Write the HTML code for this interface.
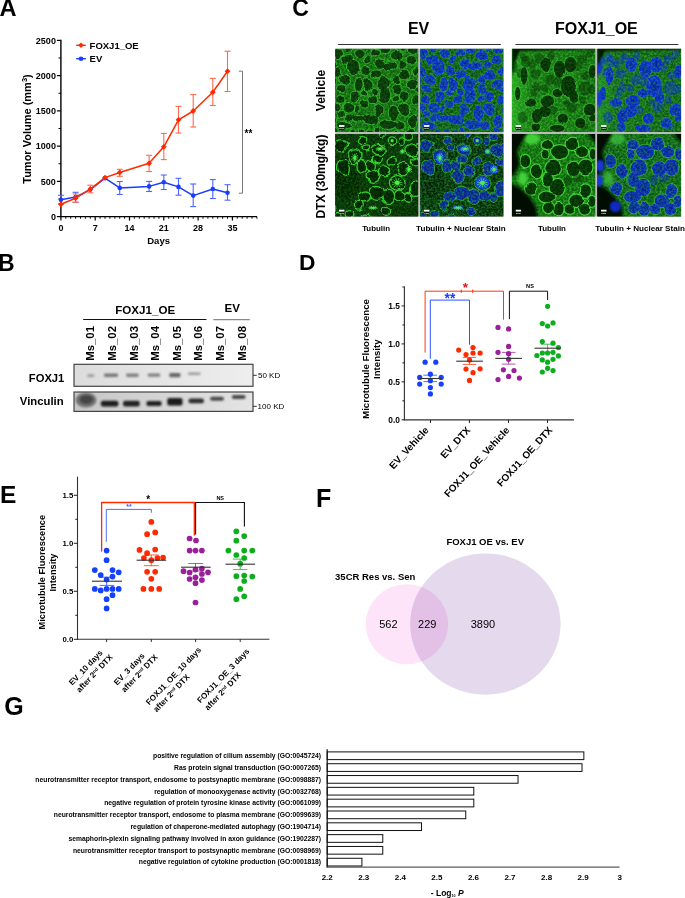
<!DOCTYPE html>
<html lang="en">
<head>
<meta charset="utf-8">
<title>Figure</title>
<style>
html,body{margin:0;padding:0;background:#fff;}
body{width:685px;height:898px;overflow:hidden;}
svg.fig{display:block;font-family:"Liberation Sans",Arial,Helvetica,sans-serif;}
</style>
</head>
<body>
<svg class="fig" width="685" height="898" viewBox="0 0 685 898">
<rect width="685" height="898" fill="#fff"/>
<g id="panelA">
<text x="-0.5" y="16" font-size="23.6" font-weight="bold" text-anchor="start" fill="#000" >A</text>
<line x1="60.9" y1="39.8" x2="60.9" y2="217.2" stroke="#000" stroke-width="1.4" />
<line x1="60.2" y1="216.6" x2="257" y2="216.6" stroke="#000" stroke-width="1.4" />
<line x1="56.9" y1="216.6" x2="60.9" y2="216.6" stroke="#000" stroke-width="1.2" />
<line x1="58.5" y1="198.98" x2="60.9" y2="198.98" stroke="#000" stroke-width="1" />
<line x1="56.9" y1="181.36" x2="60.9" y2="181.36" stroke="#000" stroke-width="1.2" />
<line x1="58.5" y1="163.74" x2="60.9" y2="163.74" stroke="#000" stroke-width="1" />
<line x1="56.9" y1="146.12" x2="60.9" y2="146.12" stroke="#000" stroke-width="1.2" />
<line x1="58.5" y1="128.5" x2="60.9" y2="128.5" stroke="#000" stroke-width="1" />
<line x1="56.9" y1="110.88" x2="60.9" y2="110.88" stroke="#000" stroke-width="1.2" />
<line x1="58.5" y1="93.26" x2="60.9" y2="93.26" stroke="#000" stroke-width="1" />
<line x1="56.9" y1="75.64" x2="60.9" y2="75.64" stroke="#000" stroke-width="1.2" />
<line x1="58.5" y1="58.02" x2="60.9" y2="58.02" stroke="#000" stroke-width="1" />
<line x1="56.9" y1="40.4" x2="60.9" y2="40.4" stroke="#000" stroke-width="1.2" />
<text x="55.9" y="219.8" font-size="9" font-weight="bold" text-anchor="end" fill="#000" >0</text>
<text x="55.9" y="184.56" font-size="9" font-weight="bold" text-anchor="end" fill="#000" >500</text>
<text x="55.9" y="149.32" font-size="9" font-weight="bold" text-anchor="end" fill="#000" >1000</text>
<text x="55.9" y="114.08" font-size="9" font-weight="bold" text-anchor="end" fill="#000" >1500</text>
<text x="55.9" y="78.84" font-size="9" font-weight="bold" text-anchor="end" fill="#000" >2000</text>
<text x="55.9" y="43.6" font-size="9" font-weight="bold" text-anchor="end" fill="#000" >2500</text>
<line x1="60.9" y1="216.6" x2="60.9" y2="220.6" stroke="#000" stroke-width="1.2" />
<line x1="65.8" y1="216.6" x2="65.8" y2="218.8" stroke="#000" stroke-width="0.9" />
<line x1="70.7" y1="216.6" x2="70.7" y2="218.8" stroke="#000" stroke-width="0.9" />
<line x1="75.6" y1="216.6" x2="75.6" y2="218.8" stroke="#000" stroke-width="0.9" />
<line x1="80.5" y1="216.6" x2="80.5" y2="218.8" stroke="#000" stroke-width="0.9" />
<line x1="85.4" y1="216.6" x2="85.4" y2="218.8" stroke="#000" stroke-width="0.9" />
<line x1="90.3" y1="216.6" x2="90.3" y2="218.8" stroke="#000" stroke-width="0.9" />
<line x1="95.2" y1="216.6" x2="95.2" y2="220.6" stroke="#000" stroke-width="1.2" />
<line x1="100.1" y1="216.6" x2="100.1" y2="218.8" stroke="#000" stroke-width="0.9" />
<line x1="105" y1="216.6" x2="105" y2="218.8" stroke="#000" stroke-width="0.9" />
<line x1="109.9" y1="216.6" x2="109.9" y2="218.8" stroke="#000" stroke-width="0.9" />
<line x1="114.8" y1="216.6" x2="114.8" y2="218.8" stroke="#000" stroke-width="0.9" />
<line x1="119.7" y1="216.6" x2="119.7" y2="218.8" stroke="#000" stroke-width="0.9" />
<line x1="124.6" y1="216.6" x2="124.6" y2="218.8" stroke="#000" stroke-width="0.9" />
<line x1="129.5" y1="216.6" x2="129.5" y2="220.6" stroke="#000" stroke-width="1.2" />
<line x1="134.4" y1="216.6" x2="134.4" y2="218.8" stroke="#000" stroke-width="0.9" />
<line x1="139.3" y1="216.6" x2="139.3" y2="218.8" stroke="#000" stroke-width="0.9" />
<line x1="144.2" y1="216.6" x2="144.2" y2="218.8" stroke="#000" stroke-width="0.9" />
<line x1="149.1" y1="216.6" x2="149.1" y2="218.8" stroke="#000" stroke-width="0.9" />
<line x1="154" y1="216.6" x2="154" y2="218.8" stroke="#000" stroke-width="0.9" />
<line x1="158.9" y1="216.6" x2="158.9" y2="218.8" stroke="#000" stroke-width="0.9" />
<line x1="163.8" y1="216.6" x2="163.8" y2="220.6" stroke="#000" stroke-width="1.2" />
<line x1="168.7" y1="216.6" x2="168.7" y2="218.8" stroke="#000" stroke-width="0.9" />
<line x1="173.6" y1="216.6" x2="173.6" y2="218.8" stroke="#000" stroke-width="0.9" />
<line x1="178.5" y1="216.6" x2="178.5" y2="218.8" stroke="#000" stroke-width="0.9" />
<line x1="183.4" y1="216.6" x2="183.4" y2="218.8" stroke="#000" stroke-width="0.9" />
<line x1="188.3" y1="216.6" x2="188.3" y2="218.8" stroke="#000" stroke-width="0.9" />
<line x1="193.2" y1="216.6" x2="193.2" y2="218.8" stroke="#000" stroke-width="0.9" />
<line x1="198.1" y1="216.6" x2="198.1" y2="220.6" stroke="#000" stroke-width="1.2" />
<line x1="203" y1="216.6" x2="203" y2="218.8" stroke="#000" stroke-width="0.9" />
<line x1="207.9" y1="216.6" x2="207.9" y2="218.8" stroke="#000" stroke-width="0.9" />
<line x1="212.8" y1="216.6" x2="212.8" y2="218.8" stroke="#000" stroke-width="0.9" />
<line x1="217.7" y1="216.6" x2="217.7" y2="218.8" stroke="#000" stroke-width="0.9" />
<line x1="222.6" y1="216.6" x2="222.6" y2="218.8" stroke="#000" stroke-width="0.9" />
<line x1="227.5" y1="216.6" x2="227.5" y2="218.8" stroke="#000" stroke-width="0.9" />
<line x1="232.4" y1="216.6" x2="232.4" y2="220.6" stroke="#000" stroke-width="1.2" />
<line x1="237.3" y1="216.6" x2="237.3" y2="218.8" stroke="#000" stroke-width="0.9" />
<line x1="242.2" y1="216.6" x2="242.2" y2="218.8" stroke="#000" stroke-width="0.9" />
<line x1="247.1" y1="216.6" x2="247.1" y2="218.8" stroke="#000" stroke-width="0.9" />
<line x1="252" y1="216.6" x2="252" y2="218.8" stroke="#000" stroke-width="0.9" />
<line x1="256.9" y1="216.6" x2="256.9" y2="218.8" stroke="#000" stroke-width="0.9" />
<text x="60.9" y="230.5" font-size="9" font-weight="bold" text-anchor="middle" fill="#000" >0</text>
<text x="95.2" y="230.5" font-size="9" font-weight="bold" text-anchor="middle" fill="#000" >7</text>
<text x="129.5" y="230.5" font-size="9" font-weight="bold" text-anchor="middle" fill="#000" >14</text>
<text x="163.8" y="230.5" font-size="9" font-weight="bold" text-anchor="middle" fill="#000" >21</text>
<text x="198.1" y="230.5" font-size="9" font-weight="bold" text-anchor="middle" fill="#000" >28</text>
<text x="232.4" y="230.5" font-size="9" font-weight="bold" text-anchor="middle" fill="#000" >35</text>
<text x="158.6" y="244.3" font-size="9.5" font-weight="bold" text-anchor="middle" fill="#000" >Days</text>
<text transform="translate(30.6 129) rotate(-90)" font-size="11" font-weight="bold" text-anchor="middle" fill="#000" >Tumor Volume (mm<tspan font-size="7.5" dy="-3.8">3</tspan><tspan dy="3.8">)</tspan></text>
<line x1="60.9" y1="195.3" x2="60.9" y2="204" stroke="#4a66ff" stroke-width="1.1" />
<line x1="57.9" y1="195.3" x2="63.9" y2="195.3" stroke="#4a66ff" stroke-width="1.1" />
<line x1="57.9" y1="204" x2="63.9" y2="204" stroke="#4a66ff" stroke-width="1.1" />
<line x1="75.6" y1="192.3" x2="75.6" y2="202.3" stroke="#4a66ff" stroke-width="1.1" />
<line x1="72.6" y1="192.3" x2="78.6" y2="192.3" stroke="#4a66ff" stroke-width="1.1" />
<line x1="72.6" y1="202.3" x2="78.6" y2="202.3" stroke="#4a66ff" stroke-width="1.1" />
<line x1="119.7" y1="181.5" x2="119.7" y2="194.5" stroke="#4a66ff" stroke-width="1.1" />
<line x1="116.7" y1="181.5" x2="122.7" y2="181.5" stroke="#4a66ff" stroke-width="1.1" />
<line x1="116.7" y1="194.5" x2="122.7" y2="194.5" stroke="#4a66ff" stroke-width="1.1" />
<line x1="149.1" y1="181.4" x2="149.1" y2="191.5" stroke="#4a66ff" stroke-width="1.1" />
<line x1="146.1" y1="181.4" x2="152.1" y2="181.4" stroke="#4a66ff" stroke-width="1.1" />
<line x1="146.1" y1="191.5" x2="152.1" y2="191.5" stroke="#4a66ff" stroke-width="1.1" />
<line x1="163.8" y1="175" x2="163.8" y2="189.5" stroke="#4a66ff" stroke-width="1.1" />
<line x1="160.8" y1="175" x2="166.8" y2="175" stroke="#4a66ff" stroke-width="1.1" />
<line x1="160.8" y1="189.5" x2="166.8" y2="189.5" stroke="#4a66ff" stroke-width="1.1" />
<line x1="178.5" y1="178.3" x2="178.5" y2="195.2" stroke="#4a66ff" stroke-width="1.1" />
<line x1="175.5" y1="178.3" x2="181.5" y2="178.3" stroke="#4a66ff" stroke-width="1.1" />
<line x1="175.5" y1="195.2" x2="181.5" y2="195.2" stroke="#4a66ff" stroke-width="1.1" />
<line x1="193.2" y1="184" x2="193.2" y2="206.6" stroke="#4a66ff" stroke-width="1.1" />
<line x1="190.2" y1="184" x2="196.2" y2="184" stroke="#4a66ff" stroke-width="1.1" />
<line x1="190.2" y1="206.6" x2="196.2" y2="206.6" stroke="#4a66ff" stroke-width="1.1" />
<line x1="212.8" y1="179.6" x2="212.8" y2="198.5" stroke="#4a66ff" stroke-width="1.1" />
<line x1="209.8" y1="179.6" x2="215.8" y2="179.6" stroke="#4a66ff" stroke-width="1.1" />
<line x1="209.8" y1="198.5" x2="215.8" y2="198.5" stroke="#4a66ff" stroke-width="1.1" />
<line x1="227.5" y1="184.7" x2="227.5" y2="200.2" stroke="#4a66ff" stroke-width="1.1" />
<line x1="224.5" y1="184.7" x2="230.5" y2="184.7" stroke="#4a66ff" stroke-width="1.1" />
<line x1="224.5" y1="200.2" x2="230.5" y2="200.2" stroke="#4a66ff" stroke-width="1.1" />
<polyline points="60.9,199.7 75.6,197.1 90.3,189.6 105,178.2 119.7,187.9 149.1,186.4 163.8,182.3 178.5,186.9 193.2,195.6 212.8,189 227.5,192.8" fill="none" stroke="#1a3cff" stroke-width="1.5" stroke-linejoin="round"/>
<circle cx="60.9" cy="199.7" r="2.3" fill="#1a3cff" />
<circle cx="75.6" cy="197.1" r="2.3" fill="#1a3cff" />
<circle cx="90.3" cy="189.6" r="2.3" fill="#1a3cff" />
<circle cx="105" cy="178.2" r="2.3" fill="#1a3cff" />
<circle cx="119.7" cy="187.9" r="2.3" fill="#1a3cff" />
<circle cx="149.1" cy="186.4" r="2.3" fill="#1a3cff" />
<circle cx="163.8" cy="182.3" r="2.3" fill="#1a3cff" />
<circle cx="178.5" cy="186.9" r="2.3" fill="#1a3cff" />
<circle cx="193.2" cy="195.6" r="2.3" fill="#1a3cff" />
<circle cx="212.8" cy="189" r="2.3" fill="#1a3cff" />
<circle cx="227.5" cy="192.8" r="2.3" fill="#1a3cff" />
<line x1="75.6" y1="194" x2="75.6" y2="202.3" stroke="#ff6a4a" stroke-width="1.1" />
<line x1="72.6" y1="194" x2="78.6" y2="194" stroke="#ff6a4a" stroke-width="1.1" />
<line x1="72.6" y1="202.3" x2="78.6" y2="202.3" stroke="#ff6a4a" stroke-width="1.1" />
<line x1="90.3" y1="185.2" x2="90.3" y2="192.8" stroke="#ff6a4a" stroke-width="1.1" />
<line x1="87.3" y1="185.2" x2="93.3" y2="185.2" stroke="#ff6a4a" stroke-width="1.1" />
<line x1="87.3" y1="192.8" x2="93.3" y2="192.8" stroke="#ff6a4a" stroke-width="1.1" />
<line x1="119.7" y1="169.3" x2="119.7" y2="176.3" stroke="#ff6a4a" stroke-width="1.1" />
<line x1="116.7" y1="169.3" x2="122.7" y2="169.3" stroke="#ff6a4a" stroke-width="1.1" />
<line x1="116.7" y1="176.3" x2="122.7" y2="176.3" stroke="#ff6a4a" stroke-width="1.1" />
<line x1="149.1" y1="155.3" x2="149.1" y2="171.5" stroke="#ff6a4a" stroke-width="1.1" />
<line x1="146.1" y1="155.3" x2="152.1" y2="155.3" stroke="#ff6a4a" stroke-width="1.1" />
<line x1="146.1" y1="171.5" x2="152.1" y2="171.5" stroke="#ff6a4a" stroke-width="1.1" />
<line x1="163.8" y1="133.4" x2="163.8" y2="159.6" stroke="#ff6a4a" stroke-width="1.1" />
<line x1="160.8" y1="133.4" x2="166.8" y2="133.4" stroke="#ff6a4a" stroke-width="1.1" />
<line x1="160.8" y1="159.6" x2="166.8" y2="159.6" stroke="#ff6a4a" stroke-width="1.1" />
<line x1="178.5" y1="106.4" x2="178.5" y2="133.1" stroke="#ff6a4a" stroke-width="1.1" />
<line x1="175.5" y1="106.4" x2="181.5" y2="106.4" stroke="#ff6a4a" stroke-width="1.1" />
<line x1="175.5" y1="133.1" x2="181.5" y2="133.1" stroke="#ff6a4a" stroke-width="1.1" />
<line x1="193.2" y1="94.6" x2="193.2" y2="127" stroke="#ff6a4a" stroke-width="1.1" />
<line x1="190.2" y1="94.6" x2="196.2" y2="94.6" stroke="#ff6a4a" stroke-width="1.1" />
<line x1="190.2" y1="127" x2="196.2" y2="127" stroke="#ff6a4a" stroke-width="1.1" />
<line x1="212.8" y1="78.4" x2="212.8" y2="105.5" stroke="#ff6a4a" stroke-width="1.1" />
<line x1="209.8" y1="78.4" x2="215.8" y2="78.4" stroke="#ff6a4a" stroke-width="1.1" />
<line x1="209.8" y1="105.5" x2="215.8" y2="105.5" stroke="#ff6a4a" stroke-width="1.1" />
<line x1="227.5" y1="51.2" x2="227.5" y2="91.5" stroke="#ff6a4a" stroke-width="1.1" />
<line x1="224.5" y1="51.2" x2="230.5" y2="51.2" stroke="#ff6a4a" stroke-width="1.1" />
<line x1="224.5" y1="91.5" x2="230.5" y2="91.5" stroke="#ff6a4a" stroke-width="1.1" />
<polyline points="60.9,204.3 75.6,198.2 90.3,189.2 105,177.6 119.7,172.5 149.1,163.3 163.8,146.8 178.5,119.8 193.2,111 212.8,92.2 227.5,71.2" fill="none" stroke="#ff2a00" stroke-width="1.5" stroke-linejoin="round"/>
<polygon points="60.9,201.4 63.8,204.3 60.9,207.2 58,204.3" fill="#ff2a00"/>
<polygon points="75.6,195.3 78.5,198.2 75.6,201.1 72.7,198.2" fill="#ff2a00"/>
<polygon points="90.3,186.3 93.2,189.2 90.3,192.1 87.4,189.2" fill="#ff2a00"/>
<polygon points="105,174.7 107.9,177.6 105,180.5 102.1,177.6" fill="#ff2a00"/>
<polygon points="119.7,169.6 122.6,172.5 119.7,175.4 116.8,172.5" fill="#ff2a00"/>
<polygon points="149.1,160.4 152,163.3 149.1,166.2 146.2,163.3" fill="#ff2a00"/>
<polygon points="163.8,143.9 166.7,146.8 163.8,149.7 160.9,146.8" fill="#ff2a00"/>
<polygon points="178.5,116.9 181.4,119.8 178.5,122.7 175.6,119.8" fill="#ff2a00"/>
<polygon points="193.2,108.1 196.1,111 193.2,113.9 190.3,111" fill="#ff2a00"/>
<polygon points="212.8,89.3 215.7,92.2 212.8,95.1 209.9,92.2" fill="#ff2a00"/>
<polygon points="227.5,68.3 230.4,71.2 227.5,74.1 224.6,71.2" fill="#ff2a00"/>
<line x1="76.2" y1="45.3" x2="85.8" y2="45.3" stroke="#ff2a00" stroke-width="1.4" />
<polygon points="81,42.5 83.8,45.3 81,48.1 78.2,45.3" fill="#ff2a00"/>
<line x1="76.2" y1="58.7" x2="85.8" y2="58.7" stroke="#1a3cff" stroke-width="1.4" />
<circle cx="81" cy="58.7" r="2.3" fill="#1a3cff" />
<text x="89.6" y="48.7" font-size="9.5" font-weight="bold" text-anchor="start" fill="#000" >FOXJ1_OE</text>
<text x="89.6" y="62" font-size="9.5" font-weight="bold" text-anchor="start" fill="#000" >EV</text>
<polyline points="238.8,71.2 242.5,71.2 242.5,193.2 238.8,193.2" fill="none" stroke="#777" stroke-width="1" />
<text x="244.5" y="136.5" font-size="10" font-weight="bold" text-anchor="start" fill="#000" >**</text>
</g>
<g id="panelB">
<text x="-1.9" y="271.3" font-size="23" font-weight="bold" text-anchor="start" fill="#000" >B</text>
<text x="145.2" y="314.2" font-size="11.6" font-weight="bold" text-anchor="middle" fill="#000" >FOXJ1_OE</text>
<line x1="83.2" y1="319.5" x2="206.4" y2="319.5" stroke="#111" stroke-width="1.2" />
<text x="232.2" y="312.4" font-size="11.6" font-weight="bold" text-anchor="middle" fill="#000" >EV</text>
<line x1="213.3" y1="319.6" x2="249.8" y2="319.6" stroke="#8a8a8a" stroke-width="1.4" />
<text transform="translate(94 360.8) rotate(-90)" font-size="11.4" font-weight="bold" text-anchor="start" fill="#000" >Ms_01</text>
<text transform="translate(115.9 360.8) rotate(-90)" font-size="11.4" font-weight="bold" text-anchor="start" fill="#000" >Ms_02</text>
<text transform="translate(137.5 360.8) rotate(-90)" font-size="11.4" font-weight="bold" text-anchor="start" fill="#000" >Ms_03</text>
<text transform="translate(159.3 360.8) rotate(-90)" font-size="11.4" font-weight="bold" text-anchor="start" fill="#000" >Ms_04</text>
<text transform="translate(181.1 360.8) rotate(-90)" font-size="11.4" font-weight="bold" text-anchor="start" fill="#000" >Ms_05</text>
<text transform="translate(202.4 360.8) rotate(-90)" font-size="11.4" font-weight="bold" text-anchor="start" fill="#000" >Ms_06</text>
<text transform="translate(224.1 360.8) rotate(-90)" font-size="11.4" font-weight="bold" text-anchor="start" fill="#000" >Ms_07</text>
<text transform="translate(245.7 360.8) rotate(-90)" font-size="11.4" font-weight="bold" text-anchor="start" fill="#000" >Ms_08</text>
<defs><linearGradient id="bg1" x1="0" x2="1"><stop offset="0" stop-color="#dcdcdc"/><stop offset="1" stop-color="#eeeeee"/></linearGradient><linearGradient id="bg2" x1="0" x2="1"><stop offset="0" stop-color="#c6c6c6"/><stop offset="1" stop-color="#e4e4e4"/></linearGradient><filter id="bl1" x="-30%" y="-100%" width="160%" height="300%"><feGaussianBlur stdDeviation="1.1 0.8"/></filter><filter id="bl2" x="-30%" y="-100%" width="160%" height="300%"><feGaussianBlur stdDeviation="1.2 0.9"/></filter><clipPath id="cb1"><rect x="74" y="364.3" width="179" height="22"/></clipPath><clipPath id="cb2"><rect x="74" y="392" width="179" height="19.4"/></clipPath></defs>
<rect x="74" y="364.3" width="179" height="22" fill="url(#bg1)"/>
<g clip-path="url(#cb1)" filter="url(#bl1)">
<rect x="87.3" y="374.3" width="7" height="2.6" rx="1.2" fill="#9a9a9a"/>
<rect x="104" y="373.4" width="14" height="3.6" rx="1.2" fill="#777"/>
<rect x="126.15" y="373.5" width="12.5" height="3.4" rx="1.2" fill="#808080"/>
<rect x="147.75" y="373.6" width="12.5" height="3.2" rx="1.2" fill="#808080"/>
<rect x="169.4" y="373.1" width="11" height="4.2" rx="1.2" fill="#666"/>
<rect x="188.05" y="372.5" width="12.5" height="2.6" rx="1.2" fill="#9a9a9a"/>
</g>
<rect x="74" y="364.3" width="179" height="22" fill="none" stroke="#444" stroke-width="1.2"/>
<rect x="74" y="392" width="179" height="19.4" fill="url(#bg2)"/>
<g clip-path="url(#cb2)" filter="url(#bl2)">
<ellipse cx="86" cy="400" rx="10.5" ry="7.4" fill="#727272"/><ellipse cx="86.4" cy="399.6" rx="7" ry="4.6" fill="#444"/>
<rect x="100.85" y="400.7" width="17.5" height="5.8" rx="2" fill="#1c1c1c"/>
<rect x="123.1" y="400.8" width="16.6" height="5.6" rx="2" fill="#202020"/>
<rect x="146.35" y="401.1" width="15.3" height="4.8" rx="2" fill="#202020"/>
<rect x="167.25" y="398" width="15.3" height="7.6" rx="2" fill="#1c1c1c"/>
<rect x="188.55" y="398.4" width="15.3" height="4.8" rx="2" fill="#2a2a2a"/>
<rect x="210.05" y="396.8" width="13.9" height="4" rx="2" fill="#4a4a4a"/>
<rect x="231.75" y="395" width="13.9" height="4" rx="2" fill="#4a4a4a"/>
</g>
<rect x="74" y="392" width="179" height="19.4" fill="none" stroke="#444" stroke-width="1.2"/>
<text x="64.3" y="382.1" font-size="11.2" font-weight="bold" text-anchor="end" fill="#000" >FOXJ1</text>
<text x="63.6" y="404.6" font-size="11.3" font-weight="bold" text-anchor="end" fill="#000" >Vinculin</text>
<line x1="253" y1="375.3" x2="256.8" y2="375.3" stroke="#333" stroke-width="1" />
<line x1="253" y1="406.3" x2="256.8" y2="406.3" stroke="#333" stroke-width="1" />
<text x="258" y="378.2" font-size="8" font-weight="normal" text-anchor="start" fill="#000" >50 KD</text>
<text x="257.6" y="409.2" font-size="8" font-weight="normal" text-anchor="start" fill="#000" >100 KD</text>
</g>
<g id="panelC">
<defs>
<filter id="tex1" x="0" y="0" width="100%" height="100%" color-interpolation-filters="sRGB"><feTurbulence type="fractalNoise" baseFrequency="0.45" numOctaves="3" seed="7"/><feColorMatrix type="matrix" values="0 0 0 0 0.28  0 0 0 0 0.86  0 0 0 0 0.22  2.4 0 0 0 -0.9"/></filter>
<filter id="tex2" x="0" y="0" width="100%" height="100%" color-interpolation-filters="sRGB"><feTurbulence type="fractalNoise" baseFrequency="0.45" numOctaves="3" seed="14"/><feColorMatrix type="matrix" values="0 0 0 0 0.28  0 0 0 0 0.86  0 0 0 0 0.22  2.4 0 0 0 -0.9"/></filter>
<filter id="tex3" x="0" y="0" width="100%" height="100%" color-interpolation-filters="sRGB"><feTurbulence type="fractalNoise" baseFrequency="0.45" numOctaves="3" seed="21"/><feColorMatrix type="matrix" values="0 0 0 0 0.28  0 0 0 0 0.86  0 0 0 0 0.22  2.4 0 0 0 -0.9"/></filter>
<filter id="tex4" x="0" y="0" width="100%" height="100%" color-interpolation-filters="sRGB"><feTurbulence type="fractalNoise" baseFrequency="0.45" numOctaves="3" seed="28"/><feColorMatrix type="matrix" values="0 0 0 0 0.28  0 0 0 0 0.86  0 0 0 0 0.22  2.4 0 0 0 -0.9"/></filter>
<filter id="tex5" x="0" y="0" width="100%" height="100%" color-interpolation-filters="sRGB"><feTurbulence type="fractalNoise" baseFrequency="0.45" numOctaves="3" seed="35"/><feColorMatrix type="matrix" values="0 0 0 0 0.28  0 0 0 0 0.86  0 0 0 0 0.22  2.4 0 0 0 -0.9"/></filter>
<filter id="tex6" x="0" y="0" width="100%" height="100%" color-interpolation-filters="sRGB"><feTurbulence type="fractalNoise" baseFrequency="0.45" numOctaves="3" seed="42"/><feColorMatrix type="matrix" values="0 0 0 0 0.28  0 0 0 0 0.86  0 0 0 0 0.22  2.4 0 0 0 -0.9"/></filter>
<filter id="tex7" x="0" y="0" width="100%" height="100%" color-interpolation-filters="sRGB"><feTurbulence type="fractalNoise" baseFrequency="0.45" numOctaves="3" seed="49"/><feColorMatrix type="matrix" values="0 0 0 0 0.28  0 0 0 0 0.86  0 0 0 0 0.22  2.4 0 0 0 -0.9"/></filter>
<filter id="tex8" x="0" y="0" width="100%" height="100%" color-interpolation-filters="sRGB"><feTurbulence type="fractalNoise" baseFrequency="0.45" numOctaves="3" seed="56"/><feColorMatrix type="matrix" values="0 0 0 0 0.28  0 0 0 0 0.86  0 0 0 0 0.22  2.4 0 0 0 -0.9"/></filter>
<filter id="dsp" x="-5%" y="-5%" width="110%" height="110%" color-interpolation-filters="sRGB"><feTurbulence type="fractalNoise" baseFrequency="0.09" numOctaves="2" seed="3" result="t"/><feDisplacementMap in="SourceGraphic" in2="t" scale="6" xChannelSelector="R" yChannelSelector="G" result="d"/><feGaussianBlur in="d" stdDeviation="0.7"/></filter>
<filter id="dsp2" x="-5%" y="-5%" width="110%" height="110%" color-interpolation-filters="sRGB"><feTurbulence type="fractalNoise" baseFrequency="0.07" numOctaves="2" seed="8" result="t"/><feDisplacementMap in="SourceGraphic" in2="t" scale="3.5" xChannelSelector="R" yChannelSelector="G" result="d"/><feGaussianBlur in="d" stdDeviation="0.75"/></filter>
<filter id="soft" x="-5%" y="-5%" width="110%" height="110%"><feGaussianBlur stdDeviation="0.45"/></filter>
<filter id="cb03" x="-5%" y="-5%" width="110%" height="110%"><feGaussianBlur stdDeviation="0.35"/></filter>
<filter id="cb06" x="-5%" y="-5%" width="110%" height="110%"><feGaussianBlur stdDeviation="0.6"/></filter>
<filter id="cb08" x="-5%" y="-5%" width="110%" height="110%"><feGaussianBlur stdDeviation="0.85"/></filter>
<filter id="cb15" x="-5%" y="-5%" width="110%" height="110%"><feGaussianBlur stdDeviation="1.6"/></filter>
<linearGradient id="fxvg" x1="0" x2="1"><stop offset="0" stop-color="#3fd838" stop-opacity="0.55"/><stop offset="0.22" stop-color="#3fd838" stop-opacity="0.1"/><stop offset="1" stop-color="#3fd838" stop-opacity="0"/></linearGradient>
</defs>
<text x="292.2" y="16.2" font-size="23" font-weight="bold" text-anchor="start" fill="#000" >C</text>
<text x="418.6" y="34.4" font-size="16" font-weight="bold" text-anchor="middle" fill="#000" >EV</text>
<text x="596.4" y="34.4" font-size="16" font-weight="bold" text-anchor="middle" fill="#000" >FOXJ1_OE</text>
<line x1="337.9" y1="44.5" x2="500.8" y2="44.5" stroke="#333" stroke-width="1.2" />
<line x1="515.5" y1="44.5" x2="678.4" y2="44.5" stroke="#333" stroke-width="1.2" />
<text transform="translate(325.4 90.5) rotate(-90)" font-size="12" font-weight="bold" text-anchor="middle" fill="#000" >Vehicle</text>
<text transform="translate(325.4 176.6) rotate(-90)" font-size="12" font-weight="bold" text-anchor="middle" fill="#000" >DTX (30mg/kg)</text>
<rect x="335.2" y="48.8" width="168.2" height="167.7" fill="#bcbcbc"/>
<rect x="511.9" y="48.8" width="169.2" height="167.7" fill="#bcbcbc"/>
<svg x="335.2" y="48.8" width="83" height="83.1" viewBox="0 0 83 83" preserveAspectRatio="none" overflow="hidden">
<rect width="83" height="83" fill="#0f5a0e"/>
<g filter="url(#soft)">
<rect x="-3" y="-3" width="89" height="89" fill="#0f5a0e"/>
<g filter="url(#dsp)" fill="none" stroke="#38c832" stroke-width="1.3" stroke-opacity="0.62">
<ellipse cx="18.37" cy="19.01" rx="5.99" ry="7.55"/>
<ellipse cx="49.2" cy="34.43" rx="6.77" ry="7.55"/>
<ellipse cx="49.85" cy="46.63" rx="5.67" ry="7.55"/>
<ellipse cx="10.02" cy="31.86" rx="5.99" ry="5.2"/>
<ellipse cx="23.51" cy="35.71" rx="4.26" ry="6.77"/>
<ellipse cx="32.5" cy="35.71" rx="4.26" ry="6.77"/>
<ellipse cx="62.05" cy="6.81" rx="6.77" ry="4.89"/>
<ellipse cx="54.34" cy="16.44" rx="6.77" ry="4.26"/>
<ellipse cx="45.35" cy="14.52" rx="4.89" ry="4.89"/>
<ellipse cx="29.93" cy="22.87" rx="5.2" ry="4.26"/>
<ellipse cx="11.95" cy="10.02" rx="5.2" ry="5.2"/>
<ellipse cx="2.95" cy="4.88" rx="4.26" ry="5.99"/>
<ellipse cx="24.79" cy="3.6" rx="5.2" ry="4.26"/>
<ellipse cx="76.18" cy="11.31" rx="5.2" ry="5.99"/>
<ellipse cx="69.76" cy="26.72" rx="5.99" ry="5.2"/>
<ellipse cx="77.47" cy="35.71" rx="5.2" ry="5.2"/>
<ellipse cx="68.47" cy="47.28" rx="5.2" ry="5.2"/>
<ellipse cx="62.05" cy="40.85" rx="4.26" ry="5.2"/>
<ellipse cx="36.36" cy="70.4" rx="8.34" ry="5.2"/>
<ellipse cx="42.78" cy="61.41" rx="4.89" ry="6.46"/>
<ellipse cx="58.2" cy="63.98" rx="5.2" ry="7.55"/>
<ellipse cx="69.76" cy="60.12" rx="6.46" ry="6.77"/>
<ellipse cx="77.47" cy="72.97" rx="5.2" ry="6.77"/>
<ellipse cx="13.23" cy="58.84" rx="5.2" ry="5.2"/>
<ellipse cx="5.52" cy="51.13" rx="5.2" ry="4.26"/>
<ellipse cx="19.66" cy="47.28" rx="4.26" ry="5.83"/>
<ellipse cx="9.38" cy="76.82" rx="6.77" ry="4.26"/>
<ellipse cx="23.51" cy="70.4" rx="6.77" ry="3.63"/>
<ellipse cx="53.06" cy="75.54" rx="8.34" ry="4.89"/>
<ellipse cx="37.64" cy="49.85" rx="4.89" ry="4.89"/>
<ellipse cx="2.95" cy="24.15" rx="3.63" ry="5.2"/>
<ellipse cx="40.21" cy="3.6" rx="5.2" ry="3.63"/>
<ellipse cx="77.47" cy="1.03" rx="5.2" ry="3.32"/>
<ellipse cx="32.5" cy="11.31" rx="4.26" ry="5.2"/>
<ellipse cx="5.52" cy="40.85" rx="4.26" ry="3.95"/>
<ellipse cx="14.52" cy="69.12" rx="4.42" ry="3.95"/>
<ellipse cx="67.19" cy="16.44" rx="4.42" ry="3.95"/>
<ellipse cx="80.04" cy="51.13" rx="3.63" ry="5.2"/>
<ellipse cx="28.65" cy="54.98" rx="4.58" ry="4.26"/>
<ellipse cx="64.62" cy="76.82" rx="5.2" ry="4.26"/>
<ellipse cx="84.8" cy="84.63" rx="4.49" ry="4.03"/>
<ellipse cx="-1.95" cy="16.25" rx="4.32" ry="4.94"/>
<ellipse cx="26.93" cy="81.87" rx="3.69" ry="3.83"/>
<ellipse cx="75.51" cy="83.3" rx="4.18" ry="4.06"/>
<ellipse cx="61.35" cy="31.79" rx="4.18" ry="4.02"/>
<ellipse cx="80.65" cy="22.08" rx="3.18" ry="3.03"/>
<ellipse cx="40.97" cy="25.44" rx="4.82" ry="4.19"/>
<ellipse cx="1.61" cy="59.65" rx="3.64" ry="4.14"/>
<ellipse cx="0.15" cy="70.18" rx="3.01" ry="2.93"/>
<ellipse cx="13.55" cy="-1.06" rx="3.9" ry="3.36"/>
<ellipse cx="40.85" cy="80.58" rx="2.87" ry="3.12"/>
<ellipse cx="50.65" cy="0.41" rx="4.46" ry="4.32"/>
<ellipse cx="84.22" cy="30.67" rx="2.97" ry="3.16"/>
<ellipse cx="21.48" cy="60.34" rx="3.1" ry="3.09"/>
<ellipse cx="61.62" cy="84.45" rx="3.01" ry="2.76"/>
<ellipse cx="84.38" cy="62.21" rx="3.67" ry="3.9"/>
<ellipse cx="84.14" cy="40.72" rx="3.63" ry="3.46"/>
<ellipse cx="16.97" cy="84.11" rx="3.17" ry="2.97"/>
<ellipse cx="34.05" cy="84.11" rx="3.4" ry="3.93"/>
<ellipse cx="67.9" cy="-1.9" rx="3.38" ry="4.2"/>
<ellipse cx="6.71" cy="65.57" rx="3.4" ry="2.99"/>
<ellipse cx="-1.48" cy="83.04" rx="4.29" ry="4.52"/>
<ellipse cx="68.05" cy="84.82" rx="2.84" ry="2.86"/>
<ellipse cx="-0.85" cy="32.41" rx="3.3" ry="3.29"/>
<ellipse cx="60.19" cy="50.04" rx="3.25" ry="3.31"/>
<ellipse cx="29" cy="44.6" rx="3.45" ry="3.08"/>
<ellipse cx="40.01" cy="42.23" rx="3.51" ry="3.7"/>
</g>
<rect width="83" height="83" fill="#48d23c" filter="url(#tex1)" opacity="0.45"/>
<g filter="url(#dsp)">
<ellipse cx="18.37" cy="19.01" rx="5.49" ry="7.05" fill="#052e05" fill-opacity="0.9"/>
<ellipse cx="49.2" cy="34.43" rx="6.27" ry="7.05" fill="#052e05" fill-opacity="0.9"/>
<ellipse cx="49.85" cy="46.63" rx="5.17" ry="7.05" fill="#052e05" fill-opacity="0.9"/>
<ellipse cx="10.02" cy="31.86" rx="5.49" ry="4.7" fill="#052e05" fill-opacity="0.9"/>
<ellipse cx="23.51" cy="35.71" rx="3.76" ry="6.27" fill="#052e05" fill-opacity="0.9"/>
<ellipse cx="32.5" cy="35.71" rx="3.76" ry="6.27" fill="#052e05" fill-opacity="0.9"/>
<ellipse cx="62.05" cy="6.81" rx="6.27" ry="4.39" fill="#052e05" fill-opacity="0.9"/>
<ellipse cx="54.34" cy="16.44" rx="6.27" ry="3.76" fill="#052e05" fill-opacity="0.9"/>
<ellipse cx="45.35" cy="14.52" rx="4.39" ry="4.39" fill="#052e05" fill-opacity="0.9"/>
<ellipse cx="29.93" cy="22.87" rx="4.7" ry="3.76" fill="#052e05" fill-opacity="0.9"/>
<ellipse cx="11.95" cy="10.02" rx="4.7" ry="4.7" fill="#052e05" fill-opacity="0.9"/>
<ellipse cx="2.95" cy="4.88" rx="3.76" ry="5.49" fill="#052e05" fill-opacity="0.9"/>
<ellipse cx="24.79" cy="3.6" rx="4.7" ry="3.76" fill="#052e05" fill-opacity="0.9"/>
<ellipse cx="76.18" cy="11.31" rx="4.7" ry="5.49" fill="#052e05" fill-opacity="0.9"/>
<ellipse cx="69.76" cy="26.72" rx="5.49" ry="4.7" fill="#052e05" fill-opacity="0.9"/>
<ellipse cx="77.47" cy="35.71" rx="4.7" ry="4.7" fill="#052e05" fill-opacity="0.9"/>
<ellipse cx="68.47" cy="47.28" rx="4.7" ry="4.7" fill="#052e05" fill-opacity="0.9"/>
<ellipse cx="62.05" cy="40.85" rx="3.76" ry="4.7" fill="#052e05" fill-opacity="0.9"/>
<ellipse cx="36.36" cy="70.4" rx="7.84" ry="4.7" fill="#052e05" fill-opacity="0.9"/>
<ellipse cx="42.78" cy="61.41" rx="4.39" ry="5.96" fill="#052e05" fill-opacity="0.9"/>
<ellipse cx="58.2" cy="63.98" rx="4.7" ry="7.05" fill="#052e05" fill-opacity="0.9"/>
<ellipse cx="69.76" cy="60.12" rx="5.96" ry="6.27" fill="#052e05" fill-opacity="0.9"/>
<ellipse cx="77.47" cy="72.97" rx="4.7" ry="6.27" fill="#052e05" fill-opacity="0.9"/>
<ellipse cx="13.23" cy="58.84" rx="4.7" ry="4.7" fill="#052e05" fill-opacity="0.9"/>
<ellipse cx="5.52" cy="51.13" rx="4.7" ry="3.76" fill="#052e05" fill-opacity="0.9"/>
<ellipse cx="19.66" cy="47.28" rx="3.76" ry="5.33" fill="#052e05" fill-opacity="0.9"/>
<ellipse cx="9.38" cy="76.82" rx="6.27" ry="3.76" fill="#052e05" fill-opacity="0.9"/>
<ellipse cx="23.51" cy="70.4" rx="6.27" ry="3.13" fill="#052e05" fill-opacity="0.9"/>
<ellipse cx="53.06" cy="75.54" rx="7.84" ry="4.39" fill="#052e05" fill-opacity="0.9"/>
<ellipse cx="37.64" cy="49.85" rx="4.39" ry="4.39" fill="#052e05" fill-opacity="0.9"/>
<ellipse cx="2.95" cy="24.15" rx="3.13" ry="4.7" fill="#052e05" fill-opacity="0.9"/>
<ellipse cx="40.21" cy="3.6" rx="4.7" ry="3.13" fill="#052e05" fill-opacity="0.9"/>
<ellipse cx="77.47" cy="1.03" rx="4.7" ry="2.82" fill="#052e05" fill-opacity="0.9"/>
<ellipse cx="32.5" cy="11.31" rx="3.76" ry="4.7" fill="#052e05" fill-opacity="0.9"/>
<ellipse cx="5.52" cy="40.85" rx="3.76" ry="3.45" fill="#052e05" fill-opacity="0.9"/>
<ellipse cx="14.52" cy="69.12" rx="3.92" ry="3.45" fill="#052e05" fill-opacity="0.9"/>
<ellipse cx="67.19" cy="16.44" rx="3.92" ry="3.45" fill="#052e05" fill-opacity="0.9"/>
<ellipse cx="80.04" cy="51.13" rx="3.13" ry="4.7" fill="#052e05" fill-opacity="0.9"/>
<ellipse cx="28.65" cy="54.98" rx="4.08" ry="3.76" fill="#052e05" fill-opacity="0.9"/>
<ellipse cx="64.62" cy="76.82" rx="4.7" ry="3.76" fill="#052e05" fill-opacity="0.9"/>
<ellipse cx="84.8" cy="84.63" rx="3.99" ry="3.53" fill="#052e05" fill-opacity="0.9"/>
<ellipse cx="-1.95" cy="16.25" rx="3.82" ry="4.44" fill="#052e05" fill-opacity="0.9"/>
<ellipse cx="26.93" cy="81.87" rx="3.19" ry="3.33" fill="#052e05" fill-opacity="0.9"/>
<ellipse cx="75.51" cy="83.3" rx="3.68" ry="3.56" fill="#052e05" fill-opacity="0.9"/>
<ellipse cx="61.35" cy="31.79" rx="3.68" ry="3.52" fill="#052e05" fill-opacity="0.9"/>
<ellipse cx="80.65" cy="22.08" rx="2.68" ry="2.53" fill="#052e05" fill-opacity="0.9"/>
<ellipse cx="40.97" cy="25.44" rx="4.32" ry="3.69" fill="#052e05" fill-opacity="0.9"/>
<ellipse cx="1.61" cy="59.65" rx="3.14" ry="3.64" fill="#052e05" fill-opacity="0.9"/>
<ellipse cx="0.15" cy="70.18" rx="2.51" ry="2.43" fill="#052e05" fill-opacity="0.9"/>
<ellipse cx="13.55" cy="-1.06" rx="3.4" ry="2.86" fill="#052e05" fill-opacity="0.9"/>
<ellipse cx="40.85" cy="80.58" rx="2.37" ry="2.62" fill="#052e05" fill-opacity="0.9"/>
<ellipse cx="50.65" cy="0.41" rx="3.96" ry="3.82" fill="#052e05" fill-opacity="0.9"/>
<ellipse cx="84.22" cy="30.67" rx="2.47" ry="2.66" fill="#052e05" fill-opacity="0.9"/>
<ellipse cx="21.48" cy="60.34" rx="2.6" ry="2.59" fill="#052e05" fill-opacity="0.9"/>
<ellipse cx="61.62" cy="84.45" rx="2.51" ry="2.26" fill="#052e05" fill-opacity="0.9"/>
<ellipse cx="84.38" cy="62.21" rx="3.17" ry="3.4" fill="#052e05" fill-opacity="0.9"/>
<ellipse cx="84.14" cy="40.72" rx="3.13" ry="2.96" fill="#052e05" fill-opacity="0.9"/>
<ellipse cx="16.97" cy="84.11" rx="2.67" ry="2.47" fill="#052e05" fill-opacity="0.9"/>
<ellipse cx="34.05" cy="84.11" rx="2.9" ry="3.43" fill="#052e05" fill-opacity="0.9"/>
<ellipse cx="67.9" cy="-1.9" rx="2.88" ry="3.7" fill="#052e05" fill-opacity="0.9"/>
<ellipse cx="6.71" cy="65.57" rx="2.9" ry="2.49" fill="#052e05" fill-opacity="0.9"/>
<ellipse cx="-1.48" cy="83.04" rx="3.79" ry="4.02" fill="#052e05" fill-opacity="0.9"/>
<ellipse cx="68.05" cy="84.82" rx="2.34" ry="2.36" fill="#052e05" fill-opacity="0.9"/>
<ellipse cx="-0.85" cy="32.41" rx="2.8" ry="2.79" fill="#052e05" fill-opacity="0.9"/>
<ellipse cx="60.19" cy="50.04" rx="2.75" ry="2.81" fill="#052e05" fill-opacity="0.9"/>
<ellipse cx="29" cy="44.6" rx="2.95" ry="2.58" fill="#052e05" fill-opacity="0.9"/>
<ellipse cx="40.01" cy="42.23" rx="3.01" ry="3.2" fill="#052e05" fill-opacity="0.9"/>
</g>
<rect width="83" height="83" fill="#48d23c" filter="url(#tex2)" opacity="0.2"/>
</g>
<rect x="3.8" y="78.3" width="5.4" height="2.6" fill="#0a140a"/>
<rect x="3.8" y="76.2" width="5.4" height="1.8" fill="#fff"/>
<text x="6.5" y="80.6" font-size="2.3" font-weight="bold" text-anchor="middle" fill="#e8e8e8">5μm</text>
</svg>
<svg x="420.2" y="48.8" width="83.2" height="83.1" viewBox="0 0 83 83" preserveAspectRatio="none" overflow="hidden">
<rect width="83" height="83" fill="#0f5a0e"/>
<g filter="url(#soft)">
<rect x="-3" y="-3" width="89" height="89" fill="#0f5a0e"/>
<g filter="url(#dsp)" fill="none" stroke="#38c832" stroke-width="1.3" stroke-opacity="0.62">
<ellipse cx="18.37" cy="19.01" rx="5.99" ry="7.55"/>
<ellipse cx="49.2" cy="34.43" rx="6.77" ry="7.55"/>
<ellipse cx="49.85" cy="46.63" rx="5.67" ry="7.55"/>
<ellipse cx="10.02" cy="31.86" rx="5.99" ry="5.2"/>
<ellipse cx="23.51" cy="35.71" rx="4.26" ry="6.77"/>
<ellipse cx="32.5" cy="35.71" rx="4.26" ry="6.77"/>
<ellipse cx="62.05" cy="6.81" rx="6.77" ry="4.89"/>
<ellipse cx="54.34" cy="16.44" rx="6.77" ry="4.26"/>
<ellipse cx="45.35" cy="14.52" rx="4.89" ry="4.89"/>
<ellipse cx="29.93" cy="22.87" rx="5.2" ry="4.26"/>
<ellipse cx="11.95" cy="10.02" rx="5.2" ry="5.2"/>
<ellipse cx="2.95" cy="4.88" rx="4.26" ry="5.99"/>
<ellipse cx="24.79" cy="3.6" rx="5.2" ry="4.26"/>
<ellipse cx="76.18" cy="11.31" rx="5.2" ry="5.99"/>
<ellipse cx="69.76" cy="26.72" rx="5.99" ry="5.2"/>
<ellipse cx="77.47" cy="35.71" rx="5.2" ry="5.2"/>
<ellipse cx="68.47" cy="47.28" rx="5.2" ry="5.2"/>
<ellipse cx="62.05" cy="40.85" rx="4.26" ry="5.2"/>
<ellipse cx="36.36" cy="70.4" rx="8.34" ry="5.2"/>
<ellipse cx="42.78" cy="61.41" rx="4.89" ry="6.46"/>
<ellipse cx="58.2" cy="63.98" rx="5.2" ry="7.55"/>
<ellipse cx="69.76" cy="60.12" rx="6.46" ry="6.77"/>
<ellipse cx="77.47" cy="72.97" rx="5.2" ry="6.77"/>
<ellipse cx="13.23" cy="58.84" rx="5.2" ry="5.2"/>
<ellipse cx="5.52" cy="51.13" rx="5.2" ry="4.26"/>
<ellipse cx="19.66" cy="47.28" rx="4.26" ry="5.83"/>
<ellipse cx="9.38" cy="76.82" rx="6.77" ry="4.26"/>
<ellipse cx="23.51" cy="70.4" rx="6.77" ry="3.63"/>
<ellipse cx="53.06" cy="75.54" rx="8.34" ry="4.89"/>
<ellipse cx="37.64" cy="49.85" rx="4.89" ry="4.89"/>
<ellipse cx="2.95" cy="24.15" rx="3.63" ry="5.2"/>
<ellipse cx="40.21" cy="3.6" rx="5.2" ry="3.63"/>
<ellipse cx="77.47" cy="1.03" rx="5.2" ry="3.32"/>
<ellipse cx="32.5" cy="11.31" rx="4.26" ry="5.2"/>
<ellipse cx="5.52" cy="40.85" rx="4.26" ry="3.95"/>
<ellipse cx="14.52" cy="69.12" rx="4.42" ry="3.95"/>
<ellipse cx="67.19" cy="16.44" rx="4.42" ry="3.95"/>
<ellipse cx="80.04" cy="51.13" rx="3.63" ry="5.2"/>
<ellipse cx="28.65" cy="54.98" rx="4.58" ry="4.26"/>
<ellipse cx="64.62" cy="76.82" rx="5.2" ry="4.26"/>
<ellipse cx="84.8" cy="84.63" rx="4.49" ry="4.03"/>
<ellipse cx="-1.95" cy="16.25" rx="4.32" ry="4.94"/>
<ellipse cx="26.93" cy="81.87" rx="3.69" ry="3.83"/>
<ellipse cx="75.51" cy="83.3" rx="4.18" ry="4.06"/>
<ellipse cx="61.35" cy="31.79" rx="4.18" ry="4.02"/>
<ellipse cx="80.65" cy="22.08" rx="3.18" ry="3.03"/>
<ellipse cx="40.97" cy="25.44" rx="4.82" ry="4.19"/>
<ellipse cx="1.61" cy="59.65" rx="3.64" ry="4.14"/>
<ellipse cx="0.15" cy="70.18" rx="3.01" ry="2.93"/>
<ellipse cx="13.55" cy="-1.06" rx="3.9" ry="3.36"/>
<ellipse cx="40.85" cy="80.58" rx="2.87" ry="3.12"/>
<ellipse cx="50.65" cy="0.41" rx="4.46" ry="4.32"/>
<ellipse cx="84.22" cy="30.67" rx="2.97" ry="3.16"/>
<ellipse cx="21.48" cy="60.34" rx="3.1" ry="3.09"/>
<ellipse cx="61.62" cy="84.45" rx="3.01" ry="2.76"/>
<ellipse cx="84.38" cy="62.21" rx="3.67" ry="3.9"/>
<ellipse cx="84.14" cy="40.72" rx="3.63" ry="3.46"/>
<ellipse cx="16.97" cy="84.11" rx="3.17" ry="2.97"/>
<ellipse cx="34.05" cy="84.11" rx="3.4" ry="3.93"/>
<ellipse cx="67.9" cy="-1.9" rx="3.38" ry="4.2"/>
<ellipse cx="6.71" cy="65.57" rx="3.4" ry="2.99"/>
<ellipse cx="-1.48" cy="83.04" rx="4.29" ry="4.52"/>
<ellipse cx="68.05" cy="84.82" rx="2.84" ry="2.86"/>
<ellipse cx="-0.85" cy="32.41" rx="3.3" ry="3.29"/>
<ellipse cx="60.19" cy="50.04" rx="3.25" ry="3.31"/>
<ellipse cx="29" cy="44.6" rx="3.45" ry="3.08"/>
<ellipse cx="40.01" cy="42.23" rx="3.51" ry="3.7"/>
</g>
<rect width="83" height="83" fill="#48d23c" filter="url(#tex2)" opacity="0.45"/>
<rect x="-3" y="-3" width="89" height="89" fill="#00142c" fill-opacity="0.22"/>
<g filter="url(#dsp)">
<ellipse cx="18.37" cy="19.01" rx="5.94" ry="7.5" fill="#0a2cd0" />
<ellipse cx="49.2" cy="34.43" rx="6.72" ry="7.5" fill="#0a2cd0" />
<ellipse cx="49.85" cy="46.63" rx="5.62" ry="7.5" fill="#0a2cd0" />
<ellipse cx="10.02" cy="31.86" rx="5.94" ry="5.15" fill="#0a2cd0" />
<ellipse cx="23.51" cy="35.71" rx="4.21" ry="6.72" fill="#0a2cd0" />
<ellipse cx="32.5" cy="35.71" rx="4.21" ry="6.72" fill="#0a2cd0" />
<ellipse cx="62.05" cy="6.81" rx="6.72" ry="4.84" fill="#0a2cd0" />
<ellipse cx="54.34" cy="16.44" rx="6.72" ry="4.21" fill="#0a2cd0" />
<ellipse cx="45.35" cy="14.52" rx="4.84" ry="4.84" fill="#0a2cd0" />
<ellipse cx="29.93" cy="22.87" rx="5.15" ry="4.21" fill="#0a2cd0" />
<ellipse cx="11.95" cy="10.02" rx="5.15" ry="5.15" fill="#0a2cd0" />
<ellipse cx="2.95" cy="4.88" rx="4.21" ry="5.94" fill="#0a2cd0" />
<ellipse cx="24.79" cy="3.6" rx="5.15" ry="4.21" fill="#0a2cd0" />
<ellipse cx="76.18" cy="11.31" rx="5.15" ry="5.94" fill="#0a2cd0" />
<ellipse cx="69.76" cy="26.72" rx="5.94" ry="5.15" fill="#0a2cd0" />
<ellipse cx="77.47" cy="35.71" rx="5.15" ry="5.15" fill="#0a2cd0" />
<ellipse cx="68.47" cy="47.28" rx="5.15" ry="5.15" fill="#0a2cd0" />
<ellipse cx="62.05" cy="40.85" rx="4.21" ry="5.15" fill="#0a2cd0" />
<ellipse cx="36.36" cy="70.4" rx="8.29" ry="5.15" fill="#0a2cd0" />
<ellipse cx="42.78" cy="61.41" rx="4.84" ry="6.41" fill="#0a2cd0" />
<ellipse cx="58.2" cy="63.98" rx="5.15" ry="7.5" fill="#0a2cd0" />
<ellipse cx="69.76" cy="60.12" rx="6.41" ry="6.72" fill="#0a2cd0" />
<ellipse cx="77.47" cy="72.97" rx="5.15" ry="6.72" fill="#0a2cd0" />
<ellipse cx="13.23" cy="58.84" rx="5.15" ry="5.15" fill="#0a2cd0" />
<ellipse cx="5.52" cy="51.13" rx="5.15" ry="4.21" fill="#0a2cd0" />
<ellipse cx="19.66" cy="47.28" rx="4.21" ry="5.78" fill="#0a2cd0" />
<ellipse cx="9.38" cy="76.82" rx="6.72" ry="4.21" fill="#0a2cd0" />
<ellipse cx="23.51" cy="70.4" rx="6.72" ry="3.58" fill="#0a2cd0" />
<ellipse cx="53.06" cy="75.54" rx="8.29" ry="4.84" fill="#0a2cd0" />
<ellipse cx="37.64" cy="49.85" rx="4.84" ry="4.84" fill="#0a2cd0" />
<ellipse cx="2.95" cy="24.15" rx="3.58" ry="5.15" fill="#0a2cd0" />
<ellipse cx="40.21" cy="3.6" rx="5.15" ry="3.58" fill="#0a2cd0" />
<ellipse cx="77.47" cy="1.03" rx="5.15" ry="3.27" fill="#0a2cd0" />
<ellipse cx="32.5" cy="11.31" rx="4.21" ry="5.15" fill="#0a2cd0" />
<ellipse cx="5.52" cy="40.85" rx="4.21" ry="3.9" fill="#0a2cd0" />
<ellipse cx="14.52" cy="69.12" rx="4.37" ry="3.9" fill="#0a2cd0" />
<ellipse cx="67.19" cy="16.44" rx="4.37" ry="3.9" fill="#0a2cd0" />
<ellipse cx="80.04" cy="51.13" rx="3.58" ry="5.15" fill="#0a2cd0" />
<ellipse cx="28.65" cy="54.98" rx="4.53" ry="4.21" fill="#0a2cd0" />
<ellipse cx="64.62" cy="76.82" rx="5.15" ry="4.21" fill="#0a2cd0" />
<ellipse cx="84.8" cy="84.63" rx="4.44" ry="3.98" fill="#0a2cd0" />
<ellipse cx="-1.95" cy="16.25" rx="4.27" ry="4.89" fill="#0a2cd0" />
<ellipse cx="26.93" cy="81.87" rx="3.64" ry="3.78" fill="#0a2cd0" />
<ellipse cx="75.51" cy="83.3" rx="4.13" ry="4.01" fill="#0a2cd0" />
<ellipse cx="61.35" cy="31.79" rx="4.13" ry="3.97" fill="#0a2cd0" />
<ellipse cx="80.65" cy="22.08" rx="3.13" ry="2.98" fill="#0a2cd0" />
<ellipse cx="40.97" cy="25.44" rx="4.77" ry="4.14" fill="#0a2cd0" />
<ellipse cx="1.61" cy="59.65" rx="3.59" ry="4.09" fill="#0a2cd0" />
<ellipse cx="0.15" cy="70.18" rx="2.96" ry="2.88" fill="#0a2cd0" />
<ellipse cx="13.55" cy="-1.06" rx="3.85" ry="3.31" fill="#0a2cd0" />
<ellipse cx="40.85" cy="80.58" rx="2.82" ry="3.07" fill="#0a2cd0" />
<ellipse cx="50.65" cy="0.41" rx="4.41" ry="4.27" fill="#0a2cd0" />
<ellipse cx="84.22" cy="30.67" rx="2.92" ry="3.11" fill="#0a2cd0" />
<ellipse cx="21.48" cy="60.34" rx="3.05" ry="3.04" fill="#0a2cd0" />
<ellipse cx="61.62" cy="84.45" rx="2.96" ry="2.71" fill="#0a2cd0" />
<ellipse cx="84.38" cy="62.21" rx="3.62" ry="3.85" fill="#0a2cd0" />
<ellipse cx="84.14" cy="40.72" rx="3.58" ry="3.41" fill="#0a2cd0" />
<ellipse cx="16.97" cy="84.11" rx="3.12" ry="2.92" fill="#0a2cd0" />
<ellipse cx="34.05" cy="84.11" rx="3.35" ry="3.88" fill="#0a2cd0" />
<ellipse cx="67.9" cy="-1.9" rx="3.33" ry="4.15" fill="#0a2cd0" />
<ellipse cx="6.71" cy="65.57" rx="3.35" ry="2.94" fill="#0a2cd0" />
<ellipse cx="-1.48" cy="83.04" rx="4.24" ry="4.47" fill="#0a2cd0" />
<ellipse cx="68.05" cy="84.82" rx="2.79" ry="2.81" fill="#0a2cd0" />
<ellipse cx="-0.85" cy="32.41" rx="3.25" ry="3.24" fill="#0a2cd0" />
<ellipse cx="60.19" cy="50.04" rx="3.2" ry="3.26" fill="#0a2cd0" />
<ellipse cx="29" cy="44.6" rx="3.4" ry="3.03" fill="#0a2cd0" />
<ellipse cx="40.01" cy="42.23" rx="3.46" ry="3.65" fill="#0a2cd0" />
</g>
<g filter="url(#cb08)">
<ellipse cx="17.87" cy="18.51" rx="2.74" ry="3.53" fill="#051a80" fill-opacity="0.6"/>
<ellipse cx="49.2" cy="34.68" rx="3.13" ry="3.53" fill="#051a80" fill-opacity="0.6"/>
<ellipse cx="50.35" cy="46.38" rx="2.59" ry="3.53" fill="#051a80" fill-opacity="0.6"/>
<ellipse cx="9.77" cy="32.36" rx="2.74" ry="2.35" fill="#051a80" fill-opacity="0.6"/>
<ellipse cx="23.76" cy="35.71" rx="1.88" ry="3.13" fill="#051a80" fill-opacity="0.6"/>
<ellipse cx="32" cy="35.21" rx="1.88" ry="3.13" fill="#051a80" fill-opacity="0.6"/>
<ellipse cx="62.05" cy="7.06" rx="3.13" ry="2.19" fill="#051a80" fill-opacity="0.6"/>
<ellipse cx="54.84" cy="16.19" rx="3.13" ry="1.88" fill="#051a80" fill-opacity="0.6"/>
<ellipse cx="45.1" cy="15.02" rx="2.19" ry="2.19" fill="#051a80" fill-opacity="0.6"/>
<ellipse cx="30.18" cy="22.87" rx="2.35" ry="1.88" fill="#051a80" fill-opacity="0.6"/>
<ellipse cx="11.45" cy="9.52" rx="2.35" ry="2.35" fill="#051a80" fill-opacity="0.6"/>
<ellipse cx="2.95" cy="5.13" rx="1.88" ry="2.74" fill="#051a80" fill-opacity="0.6"/>
<ellipse cx="25.29" cy="3.35" rx="2.35" ry="1.88" fill="#051a80" fill-opacity="0.6"/>
<ellipse cx="75.93" cy="11.81" rx="2.35" ry="2.74" fill="#051a80" fill-opacity="0.6"/>
<ellipse cx="70.01" cy="26.72" rx="2.74" ry="2.35" fill="#051a80" fill-opacity="0.6"/>
<ellipse cx="76.97" cy="35.21" rx="2.35" ry="2.35" fill="#051a80" fill-opacity="0.6"/>
<ellipse cx="68.47" cy="47.53" rx="2.35" ry="2.35" fill="#051a80" fill-opacity="0.6"/>
<ellipse cx="62.55" cy="40.6" rx="1.88" ry="2.35" fill="#051a80" fill-opacity="0.6"/>
<ellipse cx="36.11" cy="70.9" rx="3.92" ry="2.35" fill="#051a80" fill-opacity="0.6"/>
<ellipse cx="43.03" cy="61.41" rx="2.19" ry="2.98" fill="#051a80" fill-opacity="0.6"/>
<ellipse cx="57.7" cy="63.48" rx="2.35" ry="3.53" fill="#051a80" fill-opacity="0.6"/>
<ellipse cx="69.76" cy="60.37" rx="2.98" ry="3.13" fill="#051a80" fill-opacity="0.6"/>
<ellipse cx="77.97" cy="72.72" rx="2.35" ry="3.13" fill="#051a80" fill-opacity="0.6"/>
<ellipse cx="12.98" cy="59.34" rx="2.35" ry="2.35" fill="#051a80" fill-opacity="0.6"/>
<ellipse cx="5.77" cy="51.13" rx="2.35" ry="1.88" fill="#051a80" fill-opacity="0.6"/>
<ellipse cx="19.16" cy="46.78" rx="1.88" ry="2.66" fill="#051a80" fill-opacity="0.6"/>
<ellipse cx="9.38" cy="77.07" rx="3.13" ry="1.88" fill="#051a80" fill-opacity="0.6"/>
<ellipse cx="24.01" cy="70.15" rx="3.13" ry="1.57" fill="#051a80" fill-opacity="0.6"/>
<ellipse cx="52.81" cy="76.04" rx="3.92" ry="2.19" fill="#051a80" fill-opacity="0.6"/>
<ellipse cx="37.89" cy="49.85" rx="2.19" ry="2.19" fill="#051a80" fill-opacity="0.6"/>
<ellipse cx="2.45" cy="23.65" rx="1.57" ry="2.35" fill="#051a80" fill-opacity="0.6"/>
<ellipse cx="40.21" cy="3.85" rx="2.35" ry="1.57" fill="#051a80" fill-opacity="0.6"/>
<ellipse cx="77.97" cy="0.78" rx="2.35" ry="1.41" fill="#051a80" fill-opacity="0.6"/>
<ellipse cx="32.25" cy="11.81" rx="1.88" ry="2.35" fill="#051a80" fill-opacity="0.6"/>
<ellipse cx="5.77" cy="40.85" rx="1.88" ry="1.72" fill="#051a80" fill-opacity="0.6"/>
<ellipse cx="14.02" cy="68.62" rx="1.96" ry="1.72" fill="#051a80" fill-opacity="0.6"/>
<ellipse cx="67.19" cy="16.69" rx="1.96" ry="1.72" fill="#051a80" fill-opacity="0.6"/>
<ellipse cx="80.54" cy="50.88" rx="1.57" ry="2.35" fill="#051a80" fill-opacity="0.6"/>
<ellipse cx="28.4" cy="55.48" rx="2.04" ry="1.88" fill="#051a80" fill-opacity="0.6"/>
<ellipse cx="64.87" cy="76.82" rx="2.35" ry="1.88" fill="#051a80" fill-opacity="0.6"/>
<ellipse cx="84.3" cy="84.13" rx="2" ry="1.76" fill="#051a80" fill-opacity="0.6"/>
<ellipse cx="-1.95" cy="16.5" rx="1.91" ry="2.22" fill="#051a80" fill-opacity="0.6"/>
<ellipse cx="27.43" cy="81.62" rx="1.59" ry="1.67" fill="#051a80" fill-opacity="0.6"/>
<ellipse cx="75.26" cy="83.8" rx="1.84" ry="1.78" fill="#051a80" fill-opacity="0.6"/>
<ellipse cx="61.6" cy="31.79" rx="1.84" ry="1.76" fill="#051a80" fill-opacity="0.6"/>
<ellipse cx="80.15" cy="21.58" rx="1.34" ry="1.27" fill="#051a80" fill-opacity="0.6"/>
<ellipse cx="40.97" cy="25.69" rx="2.16" ry="1.84" fill="#051a80" fill-opacity="0.6"/>
<ellipse cx="2.11" cy="59.4" rx="1.57" ry="1.82" fill="#051a80" fill-opacity="0.6"/>
<ellipse cx="-0.1" cy="70.68" rx="1.25" ry="1.21" fill="#051a80" fill-opacity="0.6"/>
<ellipse cx="13.8" cy="-1.06" rx="1.7" ry="1.43" fill="#051a80" fill-opacity="0.6"/>
<ellipse cx="40.35" cy="80.08" rx="1.19" ry="1.31" fill="#051a80" fill-opacity="0.6"/>
<ellipse cx="50.65" cy="0.66" rx="1.98" ry="1.91" fill="#051a80" fill-opacity="0.6"/>
<ellipse cx="84.72" cy="30.42" rx="1.24" ry="1.33" fill="#051a80" fill-opacity="0.6"/>
<ellipse cx="21.23" cy="60.84" rx="1.3" ry="1.3" fill="#051a80" fill-opacity="0.6"/>
<ellipse cx="61.87" cy="84.45" rx="1.26" ry="1.13" fill="#051a80" fill-opacity="0.6"/>
<ellipse cx="83.88" cy="61.71" rx="1.58" ry="1.7" fill="#051a80" fill-opacity="0.6"/>
<ellipse cx="84.14" cy="40.97" rx="1.56" ry="1.48" fill="#051a80" fill-opacity="0.6"/>
<ellipse cx="17.47" cy="83.86" rx="1.34" ry="1.24" fill="#051a80" fill-opacity="0.6"/>
<ellipse cx="33.8" cy="84.61" rx="1.45" ry="1.71" fill="#051a80" fill-opacity="0.6"/>
<ellipse cx="68.15" cy="-1.9" rx="1.44" ry="1.85" fill="#051a80" fill-opacity="0.6"/>
<ellipse cx="6.21" cy="65.07" rx="1.45" ry="1.25" fill="#051a80" fill-opacity="0.6"/>
<ellipse cx="-1.48" cy="83.29" rx="1.89" ry="2.01" fill="#051a80" fill-opacity="0.6"/>
<ellipse cx="68.55" cy="84.57" rx="1.17" ry="1.18" fill="#051a80" fill-opacity="0.6"/>
<ellipse cx="-1.1" cy="32.91" rx="1.4" ry="1.39" fill="#051a80" fill-opacity="0.6"/>
<ellipse cx="60.44" cy="50.04" rx="1.37" ry="1.4" fill="#051a80" fill-opacity="0.6"/>
<ellipse cx="28.5" cy="44.1" rx="1.48" ry="1.29" fill="#051a80" fill-opacity="0.6"/>
<ellipse cx="40.01" cy="42.48" rx="1.5" ry="1.6" fill="#051a80" fill-opacity="0.6"/>
</g>
<rect width="83" height="83" fill="#03106a" filter="url(#tex3)" opacity="0.38"/>
</g>
<rect x="3.8" y="78.3" width="5.4" height="2.6" fill="#0a140a"/>
<rect x="3.8" y="76.2" width="5.4" height="1.8" fill="#fff"/>
<text x="6.5" y="80.6" font-size="2.3" font-weight="bold" text-anchor="middle" fill="#e8e8e8">5μm</text>
</svg>
<svg x="511.9" y="48.8" width="83.3" height="83.1" viewBox="0 0 83 83" preserveAspectRatio="none" overflow="hidden">
<rect width="83" height="83" fill="#10640e"/>
<g filter="url(#soft)">
<rect x="-3" y="-3" width="89" height="89" fill="#10640e"/>
<rect width="83" height="83" fill="url(#fxvg)"/>
<g filter="url(#dsp2)" fill="none" stroke="#3ccc34" stroke-width="1.2" stroke-opacity="0.5">
<ellipse cx="33.4" cy="16.44" rx="5.51" ry="7.18"/>
<ellipse cx="47.53" cy="20.3" rx="6.35" ry="8.85"/>
<ellipse cx="58.45" cy="15.8" rx="6.35" ry="8.02"/>
<ellipse cx="56.53" cy="37" rx="8.02" ry="10.52"/>
<ellipse cx="35.33" cy="52.42" rx="7.18" ry="6.35"/>
<ellipse cx="32.76" cy="62.69" rx="6.35" ry="6.01"/>
<ellipse cx="25.05" cy="66.55" rx="5.51" ry="7.18"/>
<ellipse cx="12.2" cy="26.72" rx="3.84" ry="8.85"/>
<ellipse cx="5.78" cy="44.71" rx="3.01" ry="7.18"/>
<ellipse cx="45.61" cy="44.06" rx="5.51" ry="4.51"/>
<ellipse cx="61.66" cy="47.92" rx="4.68" ry="6.35"/>
<ellipse cx="17.99" cy="53.7" rx="5.51" ry="4.51"/>
<ellipse cx="50.75" cy="69.76" rx="5.51" ry="5.51"/>
<ellipse cx="77.72" cy="60.77" rx="6.35" ry="6.35"/>
<ellipse cx="68.09" cy="74.25" rx="5.51" ry="5.51"/>
<ellipse cx="23.77" cy="78.11" rx="4.68" ry="4.68"/>
<ellipse cx="79.65" cy="22.87" rx="4.51" ry="7.18"/>
<ellipse cx="80.29" cy="69.12" rx="3.84" ry="3.84"/>
<ellipse cx="45.61" cy="79.39" rx="7.18" ry="3.84"/>
</g>
<rect width="83" height="83" fill="#4cd642" filter="url(#tex3)" opacity="0.55"/>
<g filter="url(#dsp2)">
<ellipse cx="33.4" cy="16.44" rx="5.01" ry="6.68" fill="#042a04" fill-opacity="0.92"/>
<ellipse cx="47.53" cy="20.3" rx="5.85" ry="8.35" fill="#042a04" fill-opacity="0.92"/>
<ellipse cx="58.45" cy="15.8" rx="5.85" ry="7.52" fill="#042a04" fill-opacity="0.92"/>
<ellipse cx="56.53" cy="37" rx="7.52" ry="10.02" fill="#042a04" fill-opacity="0.92"/>
<ellipse cx="35.33" cy="52.42" rx="6.68" ry="5.85" fill="#042a04" fill-opacity="0.92"/>
<ellipse cx="32.76" cy="62.69" rx="5.85" ry="5.51" fill="#042a04" fill-opacity="0.92"/>
<ellipse cx="25.05" cy="66.55" rx="5.01" ry="6.68" fill="#042a04" fill-opacity="0.92"/>
<ellipse cx="12.2" cy="26.72" rx="3.34" ry="8.35" fill="#042a04" fill-opacity="0.92"/>
<ellipse cx="5.78" cy="44.71" rx="2.51" ry="6.68" fill="#042a04" fill-opacity="0.92"/>
<ellipse cx="45.61" cy="44.06" rx="5.01" ry="4.01" fill="#042a04" fill-opacity="0.92"/>
<ellipse cx="61.66" cy="47.92" rx="4.18" ry="5.85" fill="#042a04" fill-opacity="0.92"/>
<ellipse cx="17.99" cy="53.7" rx="5.01" ry="4.01" fill="#042a04" fill-opacity="0.92"/>
<ellipse cx="50.75" cy="69.76" rx="5.01" ry="5.01" fill="#042a04" fill-opacity="0.92"/>
<ellipse cx="77.72" cy="60.77" rx="5.85" ry="5.85" fill="#042a04" fill-opacity="0.92"/>
<ellipse cx="68.09" cy="74.25" rx="5.01" ry="5.01" fill="#042a04" fill-opacity="0.92"/>
<ellipse cx="23.77" cy="78.11" rx="4.18" ry="4.18" fill="#042a04" fill-opacity="0.92"/>
<ellipse cx="79.65" cy="22.87" rx="4.01" ry="6.68" fill="#042a04" fill-opacity="0.92"/>
<ellipse cx="80.29" cy="69.12" rx="3.34" ry="3.34" fill="#042a04" fill-opacity="0.92"/>
<ellipse cx="45.61" cy="79.39" rx="6.68" ry="3.34" fill="#042a04" fill-opacity="0.92"/>
<ellipse cx="39.18" cy="7.45" rx="3.34" ry="5.01" fill="#042a04" fill-opacity="0.46"/>
<ellipse cx="27.62" cy="10.02" rx="4.18" ry="5.01" fill="#042a04" fill-opacity="0.46"/>
<ellipse cx="23.12" cy="24.79" rx="5.01" ry="5.01" fill="#042a04" fill-opacity="0.46"/>
<ellipse cx="37.9" cy="30.58" rx="5.01" ry="5.01" fill="#042a04" fill-opacity="0.46"/>
<ellipse cx="46.25" cy="31.86" rx="4.18" ry="5.01" fill="#042a04" fill-opacity="0.46"/>
<ellipse cx="73.23" cy="39.57" rx="6.68" ry="6.68" fill="#042a04" fill-opacity="0.46"/>
<ellipse cx="70.02" cy="10.02" rx="5.01" ry="5.01" fill="#042a04" fill-opacity="0.46"/>
<ellipse cx="13.49" cy="12.59" rx="4.18" ry="5.85" fill="#042a04" fill-opacity="0.46"/>
<ellipse cx="59.74" cy="58.84" rx="5.01" ry="5.01" fill="#042a04" fill-opacity="0.46"/>
<ellipse cx="10.92" cy="69.12" rx="5.01" ry="5.01" fill="#042a04" fill-opacity="0.46"/>
<ellipse cx="12.2" cy="8.74" rx="3.67" ry="4.68" fill="#042a04" fill-opacity="0.46"/>
<ellipse cx="3.21" cy="19.01" rx="2.67" ry="5.01" fill="#042a04" fill-opacity="0.46"/>
<ellipse cx="7.71" cy="24.79" rx="2.67" ry="4.34" fill="#042a04" fill-opacity="0.46"/>
<ellipse cx="19.91" cy="14.52" rx="3.67" ry="4.01" fill="#042a04" fill-opacity="0.46"/>
<ellipse cx="25.05" cy="38.28" rx="4.01" ry="4.34" fill="#042a04" fill-opacity="0.46"/>
<ellipse cx="32.76" cy="39.57" rx="3.67" ry="4.01" fill="#042a04" fill-opacity="0.46"/>
<ellipse cx="21.2" cy="44.71" rx="3.67" ry="3.67" fill="#042a04" fill-opacity="0.46"/>
<ellipse cx="40.47" cy="61.41" rx="4.34" ry="4.34" fill="#042a04" fill-opacity="0.46"/>
<ellipse cx="73.87" cy="26.72" rx="4.01" ry="4.34" fill="#042a04" fill-opacity="0.46"/>
<ellipse cx="80.29" cy="40.85" rx="3.01" ry="5.01" fill="#042a04" fill-opacity="0.46"/>
<ellipse cx="71.94" cy="77.47" rx="4.01" ry="3.34" fill="#042a04" fill-opacity="0.46"/>
<ellipse cx="64.88" cy="17.73" rx="4.01" ry="4.34" fill="#042a04" fill-opacity="0.46"/>
<ellipse cx="77.72" cy="4.88" rx="4.01" ry="3.34" fill="#042a04" fill-opacity="0.46"/>
<ellipse cx="54.6" cy="53.7" rx="3.67" ry="3.67" fill="#042a04" fill-opacity="0.46"/>
<ellipse cx="70.02" cy="51.13" rx="3.67" ry="3.67" fill="#042a04" fill-opacity="0.46"/>
</g>
<rect width="83" height="83" fill="#4cd642" filter="url(#tex4)" opacity="0.15"/>
<g filter="url(#cb08)"><polygon points="0,-2 85,-2 85,0.6 40,1.4 8,2.5 3,14 0,30" fill="#021a02"/></g>
</g>
<rect x="3.8" y="78.3" width="5.4" height="2.6" fill="#0a140a"/>
<rect x="3.8" y="76.2" width="5.4" height="1.8" fill="#fff"/>
<text x="6.5" y="80.6" font-size="2.3" font-weight="bold" text-anchor="middle" fill="#e8e8e8">5μm</text>
</svg>
<svg x="597.2" y="48.8" width="83.9" height="83.1" viewBox="0 0 83 83" preserveAspectRatio="none" overflow="hidden">
<rect width="83" height="83" fill="#10640e"/>
<g filter="url(#soft)">
<rect x="-3" y="-3" width="89" height="89" fill="#10640e"/>
<rect width="83" height="83" fill="url(#fxvg)"/>
<g filter="url(#dsp2)" fill="none" stroke="#3ccc34" stroke-width="1.2" stroke-opacity="0.5">
<ellipse cx="33.4" cy="16.44" rx="5.51" ry="7.18"/>
<ellipse cx="47.53" cy="20.3" rx="6.35" ry="8.85"/>
<ellipse cx="58.45" cy="15.8" rx="6.35" ry="8.02"/>
<ellipse cx="56.53" cy="37" rx="8.02" ry="10.52"/>
<ellipse cx="35.33" cy="52.42" rx="7.18" ry="6.35"/>
<ellipse cx="32.76" cy="62.69" rx="6.35" ry="6.01"/>
<ellipse cx="25.05" cy="66.55" rx="5.51" ry="7.18"/>
<ellipse cx="12.2" cy="26.72" rx="3.84" ry="8.85"/>
<ellipse cx="5.78" cy="44.71" rx="3.01" ry="7.18"/>
<ellipse cx="45.61" cy="44.06" rx="5.51" ry="4.51"/>
<ellipse cx="61.66" cy="47.92" rx="4.68" ry="6.35"/>
<ellipse cx="17.99" cy="53.7" rx="5.51" ry="4.51"/>
<ellipse cx="50.75" cy="69.76" rx="5.51" ry="5.51"/>
<ellipse cx="77.72" cy="60.77" rx="6.35" ry="6.35"/>
<ellipse cx="68.09" cy="74.25" rx="5.51" ry="5.51"/>
<ellipse cx="23.77" cy="78.11" rx="4.68" ry="4.68"/>
<ellipse cx="79.65" cy="22.87" rx="4.51" ry="7.18"/>
<ellipse cx="80.29" cy="69.12" rx="3.84" ry="3.84"/>
<ellipse cx="45.61" cy="79.39" rx="7.18" ry="3.84"/>
</g>
<rect width="83" height="83" fill="#4cd642" filter="url(#tex4)" opacity="0.55"/>
<rect x="-3" y="-3" width="89" height="89" fill="#00142c" fill-opacity="0.22"/>
<g filter="url(#dsp2)">
<ellipse cx="33.4" cy="16.44" rx="5.46" ry="7.13" fill="#0a2ad2" />
<ellipse cx="47.53" cy="20.3" rx="6.3" ry="8.8" fill="#0a2ad2" />
<ellipse cx="58.45" cy="15.8" rx="6.3" ry="7.97" fill="#0a2ad2" />
<ellipse cx="56.53" cy="37" rx="7.97" ry="10.47" fill="#0a2ad2" />
<ellipse cx="35.33" cy="52.42" rx="7.13" ry="6.3" fill="#0a2ad2" />
<ellipse cx="32.76" cy="62.69" rx="6.3" ry="5.96" fill="#0a2ad2" />
<ellipse cx="25.05" cy="66.55" rx="5.46" ry="7.13" fill="#0a2ad2" />
<ellipse cx="12.2" cy="26.72" rx="3.79" ry="8.8" fill="#0a2ad2" />
<ellipse cx="5.78" cy="44.71" rx="2.96" ry="7.13" fill="#0a2ad2" />
<ellipse cx="45.61" cy="44.06" rx="5.46" ry="4.46" fill="#0a2ad2" />
<ellipse cx="61.66" cy="47.92" rx="4.63" ry="6.3" fill="#0a2ad2" />
<ellipse cx="17.99" cy="53.7" rx="5.46" ry="4.46" fill="#0a2ad2" />
<ellipse cx="50.75" cy="69.76" rx="5.46" ry="5.46" fill="#0a2ad2" />
<ellipse cx="77.72" cy="60.77" rx="6.3" ry="6.3" fill="#0a2ad2" />
<ellipse cx="68.09" cy="74.25" rx="5.46" ry="5.46" fill="#0a2ad2" />
<ellipse cx="23.77" cy="78.11" rx="4.63" ry="4.63" fill="#0a2ad2" />
<ellipse cx="79.65" cy="22.87" rx="4.46" ry="7.13" fill="#0a2ad2" />
<ellipse cx="80.29" cy="69.12" rx="3.79" ry="3.79" fill="#0a2ad2" />
<ellipse cx="45.61" cy="79.39" rx="7.13" ry="3.79" fill="#0a2ad2" />
<ellipse cx="39.18" cy="7.45" rx="3.34" ry="5.01" fill="#0a2ad2" fill-opacity="0.55"/>
<ellipse cx="27.62" cy="10.02" rx="4.18" ry="5.01" fill="#0a2ad2" fill-opacity="0.55"/>
<ellipse cx="23.12" cy="24.79" rx="5.01" ry="5.01" fill="#0a2ad2" fill-opacity="0.55"/>
<ellipse cx="37.9" cy="30.58" rx="5.01" ry="5.01" fill="#0a2ad2" fill-opacity="0.55"/>
<ellipse cx="46.25" cy="31.86" rx="4.18" ry="5.01" fill="#0a2ad2" fill-opacity="0.55"/>
<ellipse cx="73.23" cy="39.57" rx="6.68" ry="6.68" fill="#0a2ad2" fill-opacity="0.55"/>
<ellipse cx="70.02" cy="10.02" rx="5.01" ry="5.01" fill="#0a2ad2" fill-opacity="0.55"/>
<ellipse cx="13.49" cy="12.59" rx="4.18" ry="5.85" fill="#0a2ad2" fill-opacity="0.55"/>
<ellipse cx="59.74" cy="58.84" rx="5.01" ry="5.01" fill="#0a2ad2" fill-opacity="0.55"/>
<ellipse cx="10.92" cy="69.12" rx="5.01" ry="5.01" fill="#0a2ad2" fill-opacity="0.55"/>
<ellipse cx="12.2" cy="8.74" rx="3.67" ry="4.68" fill="#0a2ad2" fill-opacity="0.55"/>
<ellipse cx="3.21" cy="19.01" rx="2.67" ry="5.01" fill="#0a2ad2" fill-opacity="0.55"/>
<ellipse cx="7.71" cy="24.79" rx="2.67" ry="4.34" fill="#0a2ad2" fill-opacity="0.55"/>
<ellipse cx="19.91" cy="14.52" rx="3.67" ry="4.01" fill="#0a2ad2" fill-opacity="0.55"/>
<ellipse cx="25.05" cy="38.28" rx="4.01" ry="4.34" fill="#0a2ad2" fill-opacity="0.55"/>
<ellipse cx="32.76" cy="39.57" rx="3.67" ry="4.01" fill="#0a2ad2" fill-opacity="0.55"/>
<ellipse cx="21.2" cy="44.71" rx="3.67" ry="3.67" fill="#0a2ad2" fill-opacity="0.55"/>
<ellipse cx="40.47" cy="61.41" rx="4.34" ry="4.34" fill="#0a2ad2" fill-opacity="0.55"/>
<ellipse cx="73.87" cy="26.72" rx="4.01" ry="4.34" fill="#0a2ad2" fill-opacity="0.55"/>
<ellipse cx="80.29" cy="40.85" rx="3.01" ry="5.01" fill="#0a2ad2" fill-opacity="0.55"/>
<ellipse cx="71.94" cy="77.47" rx="4.01" ry="3.34" fill="#0a2ad2" fill-opacity="0.55"/>
<ellipse cx="64.88" cy="17.73" rx="4.01" ry="4.34" fill="#0a2ad2" fill-opacity="0.55"/>
<ellipse cx="77.72" cy="4.88" rx="4.01" ry="3.34" fill="#0a2ad2" fill-opacity="0.55"/>
<ellipse cx="54.6" cy="53.7" rx="3.67" ry="3.67" fill="#0a2ad2" fill-opacity="0.55"/>
<ellipse cx="70.02" cy="51.13" rx="3.67" ry="3.67" fill="#0a2ad2" fill-opacity="0.55"/>
</g>
<g filter="url(#cb08)">
<ellipse cx="32.9" cy="15.94" rx="2.51" ry="3.34" fill="#051a80" fill-opacity="0.6"/>
<ellipse cx="47.53" cy="20.55" rx="2.92" ry="4.18" fill="#051a80" fill-opacity="0.6"/>
<ellipse cx="58.95" cy="15.55" rx="2.92" ry="3.76" fill="#051a80" fill-opacity="0.6"/>
<ellipse cx="56.28" cy="37.5" rx="3.76" ry="5.01" fill="#051a80" fill-opacity="0.6"/>
<ellipse cx="35.58" cy="52.42" rx="3.34" ry="2.92" fill="#051a80" fill-opacity="0.6"/>
<ellipse cx="32.26" cy="62.19" rx="2.92" ry="2.76" fill="#051a80" fill-opacity="0.6"/>
<ellipse cx="25.05" cy="66.8" rx="2.51" ry="3.34" fill="#051a80" fill-opacity="0.6"/>
<ellipse cx="12.7" cy="26.47" rx="1.67" ry="4.18" fill="#051a80" fill-opacity="0.6"/>
<ellipse cx="5.53" cy="45.21" rx="1.25" ry="3.34" fill="#051a80" fill-opacity="0.6"/>
<ellipse cx="45.86" cy="44.06" rx="2.51" ry="2" fill="#051a80" fill-opacity="0.6"/>
<ellipse cx="61.16" cy="47.42" rx="2.09" ry="2.92" fill="#051a80" fill-opacity="0.6"/>
<ellipse cx="17.99" cy="53.95" rx="2.51" ry="2" fill="#051a80" fill-opacity="0.6"/>
<ellipse cx="51.25" cy="69.51" rx="2.51" ry="2.51" fill="#051a80" fill-opacity="0.6"/>
<ellipse cx="77.47" cy="61.27" rx="2.92" ry="2.92" fill="#051a80" fill-opacity="0.6"/>
<ellipse cx="68.34" cy="74.25" rx="2.51" ry="2.51" fill="#051a80" fill-opacity="0.6"/>
<ellipse cx="23.27" cy="77.61" rx="2.09" ry="2.09" fill="#051a80" fill-opacity="0.6"/>
<ellipse cx="79.65" cy="23.12" rx="2" ry="3.34" fill="#051a80" fill-opacity="0.6"/>
<ellipse cx="80.79" cy="68.87" rx="1.67" ry="1.67" fill="#051a80" fill-opacity="0.6"/>
<ellipse cx="45.36" cy="79.89" rx="3.34" ry="1.67" fill="#051a80" fill-opacity="0.6"/>
</g>
<rect width="83" height="83" fill="#03106a" filter="url(#tex5)" opacity="0.38"/>
<g filter="url(#cb08)"><polygon points="0,-2 85,-2 85,0.6 40,1.4 8,2.5 3,14 0,30" fill="#021a02"/></g>
<g filter="url(#cb08)"><ellipse cx="1" cy="20" rx="2.5" ry="6" fill="#1238d8" /><ellipse cx="2" cy="50" rx="3" ry="8" fill="#1238d8" /><ellipse cx="6" cy="12" rx="3" ry="4" fill="#1238d8" fill-opacity="0.7"/></g>
</g>
<rect x="3.8" y="78.3" width="5.4" height="2.6" fill="#0a140a"/>
<rect x="3.8" y="76.2" width="5.4" height="1.8" fill="#fff"/>
<text x="6.5" y="80.6" font-size="2.3" font-weight="bold" text-anchor="middle" fill="#e8e8e8">5μm</text>
</svg>
<svg x="335.2" y="133.9" width="83" height="82.6" viewBox="0 0 83 83" preserveAspectRatio="none" overflow="hidden">
<rect width="83" height="83" fill="#052c05"/>
<g filter="url(#soft)">
<rect x="-3" y="-3" width="89" height="89" fill="#052c05"/>
<g filter="url(#cb15)"><ellipse cx="10" cy="46" rx="15" ry="19" fill="#032203" fill-opacity="0.85"/><ellipse cx="70" cy="78" rx="16" ry="6" fill="#042804" fill-opacity="0.8"/></g>
<g filter="url(#dsp)" fill="none" stroke="#3ada34" stroke-width="1.6" stroke-opacity="0.9">
<ellipse cx="8.74" cy="34.43" rx="6.26" ry="7.69"/>
<ellipse cx="6.17" cy="11.95" rx="5.97" ry="5.97"/>
<ellipse cx="26.72" cy="33.14" rx="4.82" ry="6.26"/>
<ellipse cx="35.07" cy="31.86" rx="3.95" ry="5.39"/>
<ellipse cx="38.28" cy="41.5" rx="6.26" ry="5.97"/>
<ellipse cx="42.14" cy="26.08" rx="4.82" ry="3.95"/>
<ellipse cx="49.85" cy="37.64" rx="5.39" ry="5.39"/>
<ellipse cx="31.22" cy="14.52" rx="4.1" ry="3.38"/>
<ellipse cx="41.5" cy="58.84" rx="7.69" ry="6.83"/>
<ellipse cx="29.29" cy="63.34" rx="5.54" ry="4.82"/>
<ellipse cx="53.06" cy="62.69" rx="6.26" ry="6.97"/>
<ellipse cx="64.62" cy="62.05" rx="5.54" ry="5.54"/>
<ellipse cx="73.61" cy="62.69" rx="3.95" ry="4.82"/>
<ellipse cx="24.15" cy="71.69" rx="4.82" ry="4.82"/>
<ellipse cx="76.18" cy="16.44" rx="6.26" ry="6.26"/>
<ellipse cx="80.04" cy="54.98" rx="4.53" ry="7.69"/>
<ellipse cx="68.47" cy="35.71" rx="5.97" ry="6.26"/>
<ellipse cx="19.66" cy="22.87" rx="5.97" ry="6.97"/>
<ellipse cx="44.71" cy="15.8" rx="6.26" ry="5.1"/>
<ellipse cx="62.05" cy="49.2" rx="7.69" ry="7.12"/>
<ellipse cx="56.91" cy="6.81" rx="3.67" ry="3.67"/>
<ellipse cx="47.93" cy="-0.86" rx="3.34" ry="3.96"/>
<ellipse cx="-1.85" cy="73.81" rx="3.28" ry="4.01"/>
<ellipse cx="56.98" cy="27.4" rx="3.96" ry="3.63"/>
<ellipse cx="2.96" cy="82.83" rx="3.6" ry="3.68"/>
<ellipse cx="13.74" cy="81.1" rx="3.78" ry="3.95"/>
<ellipse cx="79.96" cy="27.96" rx="3.71" ry="3.96"/>
<ellipse cx="72.79" cy="1.19" rx="3.76" ry="4.06"/>
<ellipse cx="51.14" cy="77.87" rx="4.1" ry="3.72"/>
<ellipse cx="84.72" cy="12.05" rx="3.84" ry="3.43"/>
<ellipse cx="66.56" cy="7.28" rx="3.4" ry="4.12"/>
<ellipse cx="30.8" cy="83.99" rx="4.41" ry="4.26"/>
<ellipse cx="27.45" cy="5.75" rx="3.89" ry="3.97"/>
</g>
<rect width="83" height="83" fill="#2fae2a" filter="url(#tex5)" opacity="0.22"/>
<g filter="url(#dsp)">
<ellipse cx="8.74" cy="34.43" rx="5.76" ry="7.19" fill="#042604" fill-opacity="0.9"/>
<ellipse cx="6.17" cy="11.95" rx="5.47" ry="5.47" fill="#042604" fill-opacity="0.9"/>
<ellipse cx="26.72" cy="33.14" rx="4.32" ry="5.76" fill="#042604" fill-opacity="0.9"/>
<ellipse cx="35.07" cy="31.86" rx="3.45" ry="4.89" fill="#042604" fill-opacity="0.9"/>
<ellipse cx="38.28" cy="41.5" rx="5.76" ry="5.47" fill="#042604" fill-opacity="0.9"/>
<ellipse cx="42.14" cy="26.08" rx="4.32" ry="3.45" fill="#042604" fill-opacity="0.9"/>
<ellipse cx="49.85" cy="37.64" rx="4.89" ry="4.89" fill="#042604" fill-opacity="0.9"/>
<ellipse cx="31.22" cy="14.52" rx="3.6" ry="2.88" fill="#042604" fill-opacity="0.9"/>
<ellipse cx="41.5" cy="58.84" rx="7.19" ry="6.33" fill="#042604" fill-opacity="0.9"/>
<ellipse cx="29.29" cy="63.34" rx="5.04" ry="4.32" fill="#042604" fill-opacity="0.9"/>
<ellipse cx="53.06" cy="62.69" rx="5.76" ry="6.47" fill="#042604" fill-opacity="0.9"/>
<ellipse cx="64.62" cy="62.05" rx="5.04" ry="5.04" fill="#042604" fill-opacity="0.9"/>
<ellipse cx="73.61" cy="62.69" rx="3.45" ry="4.32" fill="#042604" fill-opacity="0.9"/>
<ellipse cx="24.15" cy="71.69" rx="4.32" ry="4.32" fill="#042604" fill-opacity="0.9"/>
<ellipse cx="76.18" cy="16.44" rx="5.76" ry="5.76" fill="#042604" fill-opacity="0.9"/>
<ellipse cx="80.04" cy="54.98" rx="4.03" ry="7.19" fill="#042604" fill-opacity="0.9"/>
<ellipse cx="68.47" cy="35.71" rx="5.47" ry="5.76" fill="#042604" fill-opacity="0.9"/>
<ellipse cx="19.66" cy="22.87" rx="5.47" ry="6.47" fill="#042604" fill-opacity="0.9"/>
<ellipse cx="44.71" cy="15.8" rx="5.76" ry="4.6" fill="#042604" fill-opacity="0.9"/>
<ellipse cx="62.05" cy="49.2" rx="7.19" ry="6.62" fill="#042604" fill-opacity="0.9"/>
<ellipse cx="56.91" cy="6.81" rx="3.17" ry="3.17" fill="#042604" fill-opacity="0.9"/>
<ellipse cx="47.93" cy="-0.86" rx="2.84" ry="3.46" fill="#042604" fill-opacity="0.9"/>
<ellipse cx="-1.85" cy="73.81" rx="2.78" ry="3.51" fill="#042604" fill-opacity="0.9"/>
<ellipse cx="56.98" cy="27.4" rx="3.46" ry="3.13" fill="#042604" fill-opacity="0.9"/>
<ellipse cx="2.96" cy="82.83" rx="3.1" ry="3.18" fill="#042604" fill-opacity="0.9"/>
<ellipse cx="13.74" cy="81.1" rx="3.28" ry="3.45" fill="#042604" fill-opacity="0.9"/>
<ellipse cx="79.96" cy="27.96" rx="3.21" ry="3.46" fill="#042604" fill-opacity="0.9"/>
<ellipse cx="72.79" cy="1.19" rx="3.26" ry="3.56" fill="#042604" fill-opacity="0.9"/>
<ellipse cx="51.14" cy="77.87" rx="3.6" ry="3.22" fill="#042604" fill-opacity="0.9"/>
<ellipse cx="84.72" cy="12.05" rx="3.34" ry="2.93" fill="#042604" fill-opacity="0.9"/>
<ellipse cx="66.56" cy="7.28" rx="2.9" ry="3.62" fill="#042604" fill-opacity="0.9"/>
<ellipse cx="30.8" cy="83.99" rx="3.91" ry="3.76" fill="#042604" fill-opacity="0.9"/>
<ellipse cx="27.45" cy="5.75" rx="3.39" ry="3.47" fill="#042604" fill-opacity="0.9"/>
</g>
<rect width="83" height="83" fill="#2fae2a" filter="url(#tex6)" opacity="0.1"/>
<g filter="url(#cb06)">
<ellipse cx="19.66" cy="24.15" rx="1.41" ry="1.93" fill="#4cf048" fill-opacity="0.95"/>
<ellipse cx="44.71" cy="15.16" rx="1.67" ry="1.03" fill="#4cf048" fill-opacity="0.95"/>
<ellipse cx="67.19" cy="17.73" rx="1.03" ry="1.03" fill="#4cf048" fill-opacity="0.95"/>
<ellipse cx="73.61" cy="35.71" rx="1.41" ry="1.41" fill="#4cf048" fill-opacity="0.95"/>
<ellipse cx="62.05" cy="49.2" rx="2.31" ry="2.06" fill="#4cf048" fill-opacity="0.95"/>
<ellipse cx="37.64" cy="74.25" rx="1.8" ry="0.77" fill="#4cf048" fill-opacity="0.95"/>
<ellipse cx="56.91" cy="6.81" rx="0.64" ry="0.64" fill="#4cf048" fill-opacity="0.95"/>
</g>
<g filter="url(#cb03)" stroke="#52f24c" stroke-width="0.7" stroke-linecap="round">
<line x1="19.66" y1="24.15" x2="22.48" y2="24.15"/>
<line x1="19.66" y1="24.15" x2="22.63" y2="26.76"/>
<line x1="19.66" y1="24.15" x2="21.03" y2="28.24"/>
<line x1="19.66" y1="24.15" x2="19.22" y2="28.28"/>
<line x1="19.66" y1="24.15" x2="17.8" y2="27.06"/>
<line x1="19.66" y1="24.15" x2="16.27" y2="25.51"/>
<line x1="19.66" y1="24.15" x2="16.49" y2="22.89"/>
<line x1="19.66" y1="24.15" x2="17.65" y2="21"/>
<line x1="19.66" y1="24.15" x2="19.25" y2="20.34"/>
<line x1="19.66" y1="24.15" x2="21.12" y2="19.77"/>
<line x1="19.66" y1="24.15" x2="22.43" y2="21.72"/>
<line x1="44.71" y1="15.16" x2="48.55" y2="16.16"/>
<line x1="44.71" y1="15.16" x2="46.91" y2="17.14"/>
<line x1="44.71" y1="15.16" x2="44.81" y2="17.39"/>
<line x1="44.71" y1="15.16" x2="42.98" y2="16.92"/>
<line x1="44.71" y1="15.16" x2="40.96" y2="16.29"/>
<line x1="44.71" y1="15.16" x2="40.84" y2="14.89"/>
<line x1="44.71" y1="15.16" x2="41.91" y2="13.75"/>
<line x1="44.71" y1="15.16" x2="43.68" y2="13.2"/>
<line x1="44.71" y1="15.16" x2="45.77" y2="12.67"/>
<line x1="44.71" y1="15.16" x2="47.58" y2="13.54"/>
<line x1="44.71" y1="15.16" x2="48.27" y2="14.78"/>
<line x1="67.19" y1="17.73" x2="68.86" y2="19.45"/>
<line x1="67.19" y1="17.73" x2="67.63" y2="19.91"/>
<line x1="67.19" y1="17.73" x2="66.44" y2="19.64"/>
<line x1="67.19" y1="17.73" x2="65.11" y2="19.24"/>
<line x1="67.19" y1="17.73" x2="64.79" y2="17.86"/>
<line x1="67.19" y1="17.73" x2="65.25" y2="16.63"/>
<line x1="67.19" y1="17.73" x2="66.23" y2="15.91"/>
<line x1="67.19" y1="17.73" x2="67.41" y2="15.17"/>
<line x1="67.19" y1="17.73" x2="68.65" y2="15.83"/>
<line x1="67.19" y1="17.73" x2="69.29" y2="16.98"/>
<line x1="67.19" y1="17.73" x2="69.19" y2="18.19"/>
<line x1="73.61" y1="35.71" x2="74.72" y2="38.57"/>
<line x1="73.61" y1="35.71" x2="73.05" y2="38.48"/>
<line x1="73.61" y1="35.71" x2="71.15" y2="38.25"/>
<line x1="73.61" y1="35.71" x2="70.4" y2="36.46"/>
<line x1="73.61" y1="35.71" x2="70.73" y2="34.68"/>
<line x1="73.61" y1="35.71" x2="71.89" y2="33.48"/>
<line x1="73.61" y1="35.71" x2="73.31" y2="32.19"/>
<line x1="73.61" y1="35.71" x2="75.15" y2="32.8"/>
<line x1="73.61" y1="35.71" x2="76.28" y2="34.21"/>
<line x1="73.61" y1="35.71" x2="76.43" y2="35.88"/>
<line x1="73.61" y1="35.71" x2="76.47" y2="37.79"/>
<line x1="62.05" y1="49.2" x2="61.92" y2="53.31"/>
<line x1="62.05" y1="49.2" x2="58.78" y2="53.44"/>
<line x1="62.05" y1="49.2" x2="57.08" y2="51.07"/>
<line x1="62.05" y1="49.2" x2="57.11" y2="48.44"/>
<line x1="62.05" y1="49.2" x2="58.65" y2="46.42"/>
<line x1="62.05" y1="49.2" x2="60.58" y2="44.23"/>
<line x1="62.05" y1="49.2" x2="63.72" y2="44.64"/>
<line x1="62.05" y1="49.2" x2="65.93" y2="46.39"/>
<line x1="62.05" y1="49.2" x2="66.65" y2="48.74"/>
<line x1="62.05" y1="49.2" x2="67.24" y2="51.47"/>
<line x1="62.05" y1="49.2" x2="64.83" y2="53.31"/>
<line x1="37.64" y1="74.25" x2="35.77" y2="76.01"/>
<line x1="37.64" y1="74.25" x2="34.11" y2="75.23"/>
<line x1="37.64" y1="74.25" x2="33.74" y2="74.25"/>
<line x1="37.64" y1="74.25" x2="34.62" y2="73.42"/>
<line x1="37.64" y1="74.25" x2="35.78" y2="72.5"/>
<line x1="37.64" y1="74.25" x2="38.24" y2="72.47"/>
<line x1="37.64" y1="74.25" x2="40.2" y2="72.99"/>
<line x1="37.64" y1="74.25" x2="41.09" y2="73.82"/>
<line x1="37.64" y1="74.25" x2="41.95" y2="74.8"/>
<line x1="37.64" y1="74.25" x2="40.39" y2="75.62"/>
<line x1="37.64" y1="74.25" x2="38.19" y2="75.91"/>
<line x1="56.91" y1="6.81" x2="55.81" y2="7.82"/>
<line x1="56.91" y1="6.81" x2="55.54" y2="7.04"/>
<line x1="56.91" y1="6.81" x2="55.73" y2="6.31"/>
<line x1="56.91" y1="6.81" x2="56.01" y2="5.48"/>
<line x1="56.91" y1="6.81" x2="56.87" y2="5.31"/>
<line x1="56.91" y1="6.81" x2="57.63" y2="5.62"/>
<line x1="56.91" y1="6.81" x2="58.07" y2="6.24"/>
<line x1="56.91" y1="6.81" x2="58.51" y2="6.99"/>
<line x1="56.91" y1="6.81" x2="58.07" y2="7.76"/>
<line x1="56.91" y1="6.81" x2="57.34" y2="8.13"/>
<line x1="56.91" y1="6.81" x2="56.58" y2="8.05"/>
</g>
</g>
<rect x="3.8" y="78.3" width="5.4" height="2.6" fill="#0a140a"/>
<rect x="3.8" y="76.2" width="5.4" height="1.8" fill="#fff"/>
<text x="6.5" y="80.6" font-size="2.3" font-weight="bold" text-anchor="middle" fill="#e8e8e8">5μm</text>
</svg>
<svg x="420.2" y="133.9" width="83.2" height="82.6" viewBox="0 0 83 83" preserveAspectRatio="none" overflow="hidden">
<rect width="83" height="83" fill="#052c05"/>
<g filter="url(#soft)">
<rect x="-3" y="-3" width="89" height="89" fill="#052c05"/>
<g filter="url(#cb15)"><ellipse cx="10" cy="46" rx="15" ry="19" fill="#032203" fill-opacity="0.85"/><ellipse cx="70" cy="78" rx="16" ry="6" fill="#042804" fill-opacity="0.8"/></g>
<g filter="url(#dsp)" fill="none" stroke="#3ada34" stroke-width="1.6" stroke-opacity="0.9">
<ellipse cx="8.74" cy="34.43" rx="6.26" ry="7.69"/>
<ellipse cx="6.17" cy="11.95" rx="5.97" ry="5.97"/>
<ellipse cx="26.72" cy="33.14" rx="4.82" ry="6.26"/>
<ellipse cx="35.07" cy="31.86" rx="3.95" ry="5.39"/>
<ellipse cx="38.28" cy="41.5" rx="6.26" ry="5.97"/>
<ellipse cx="42.14" cy="26.08" rx="4.82" ry="3.95"/>
<ellipse cx="49.85" cy="37.64" rx="5.39" ry="5.39"/>
<ellipse cx="31.22" cy="14.52" rx="4.1" ry="3.38"/>
<ellipse cx="41.5" cy="58.84" rx="7.69" ry="6.83"/>
<ellipse cx="29.29" cy="63.34" rx="5.54" ry="4.82"/>
<ellipse cx="53.06" cy="62.69" rx="6.26" ry="6.97"/>
<ellipse cx="64.62" cy="62.05" rx="5.54" ry="5.54"/>
<ellipse cx="73.61" cy="62.69" rx="3.95" ry="4.82"/>
<ellipse cx="24.15" cy="71.69" rx="4.82" ry="4.82"/>
<ellipse cx="76.18" cy="16.44" rx="6.26" ry="6.26"/>
<ellipse cx="80.04" cy="54.98" rx="4.53" ry="7.69"/>
<ellipse cx="68.47" cy="35.71" rx="5.97" ry="6.26"/>
<ellipse cx="19.66" cy="22.87" rx="5.97" ry="6.97"/>
<ellipse cx="44.71" cy="15.8" rx="6.26" ry="5.1"/>
<ellipse cx="62.05" cy="49.2" rx="7.69" ry="7.12"/>
<ellipse cx="56.91" cy="6.81" rx="3.67" ry="3.67"/>
<ellipse cx="47.93" cy="-0.86" rx="3.34" ry="3.96"/>
<ellipse cx="-1.85" cy="73.81" rx="3.28" ry="4.01"/>
<ellipse cx="56.98" cy="27.4" rx="3.96" ry="3.63"/>
<ellipse cx="2.96" cy="82.83" rx="3.6" ry="3.68"/>
<ellipse cx="13.74" cy="81.1" rx="3.78" ry="3.95"/>
<ellipse cx="79.96" cy="27.96" rx="3.71" ry="3.96"/>
<ellipse cx="72.79" cy="1.19" rx="3.76" ry="4.06"/>
<ellipse cx="51.14" cy="77.87" rx="4.1" ry="3.72"/>
<ellipse cx="84.72" cy="12.05" rx="3.84" ry="3.43"/>
<ellipse cx="66.56" cy="7.28" rx="3.4" ry="4.12"/>
<ellipse cx="30.8" cy="83.99" rx="4.41" ry="4.26"/>
<ellipse cx="27.45" cy="5.75" rx="3.89" ry="3.97"/>
</g>
<rect width="83" height="83" fill="#2fae2a" filter="url(#tex6)" opacity="0.22"/>
<rect x="-3" y="-3" width="89" height="89" fill="#00142c" fill-opacity="0.22"/>
<g filter="url(#dsp)">
<ellipse cx="8.74" cy="34.43" rx="6.21" ry="7.64" fill="#08249e" />
<ellipse cx="6.17" cy="11.95" rx="5.92" ry="5.92" fill="#08249e" />
<ellipse cx="26.72" cy="33.14" rx="4.77" ry="6.21" fill="#08249e" />
<ellipse cx="35.07" cy="31.86" rx="3.9" ry="5.34" fill="#08249e" />
<ellipse cx="38.28" cy="41.5" rx="6.21" ry="5.92" fill="#08249e" />
<ellipse cx="42.14" cy="26.08" rx="4.77" ry="3.9" fill="#08249e" />
<ellipse cx="49.85" cy="37.64" rx="5.34" ry="5.34" fill="#08249e" />
<ellipse cx="31.22" cy="14.52" rx="4.05" ry="3.33" fill="#08249e" />
<ellipse cx="41.5" cy="58.84" rx="7.64" ry="6.78" fill="#08249e" />
<ellipse cx="29.29" cy="63.34" rx="5.49" ry="4.77" fill="#08249e" />
<ellipse cx="53.06" cy="62.69" rx="6.21" ry="6.92" fill="#08249e" />
<ellipse cx="64.62" cy="62.05" rx="5.49" ry="5.49" fill="#08249e" />
<ellipse cx="73.61" cy="62.69" rx="3.9" ry="4.77" fill="#08249e" />
<ellipse cx="24.15" cy="71.69" rx="4.77" ry="4.77" fill="#08249e" />
<ellipse cx="76.18" cy="16.44" rx="6.21" ry="6.21" fill="#08249e" />
<ellipse cx="80.04" cy="54.98" rx="4.48" ry="7.64" fill="#08249e" />
<ellipse cx="68.47" cy="35.71" rx="5.92" ry="6.21" fill="#08249e" />
<ellipse cx="19.66" cy="22.87" rx="5.92" ry="6.92" fill="#08249e" />
<ellipse cx="44.71" cy="15.8" rx="6.21" ry="5.05" fill="#08249e" />
<ellipse cx="62.05" cy="49.2" rx="7.64" ry="7.07" fill="#08249e" />
<ellipse cx="56.91" cy="6.81" rx="3.62" ry="3.62" fill="#08249e" />
<ellipse cx="47.93" cy="-0.86" rx="3.29" ry="3.91" fill="#08249e" />
<ellipse cx="-1.85" cy="73.81" rx="3.23" ry="3.96" fill="#08249e" />
<ellipse cx="56.98" cy="27.4" rx="3.91" ry="3.58" fill="#08249e" />
<ellipse cx="2.96" cy="82.83" rx="3.55" ry="3.63" fill="#08249e" />
<ellipse cx="13.74" cy="81.1" rx="3.73" ry="3.9" fill="#08249e" />
<ellipse cx="79.96" cy="27.96" rx="3.66" ry="3.91" fill="#08249e" />
<ellipse cx="72.79" cy="1.19" rx="3.71" ry="4.01" fill="#08249e" />
<ellipse cx="51.14" cy="77.87" rx="4.05" ry="3.67" fill="#08249e" />
<ellipse cx="84.72" cy="12.05" rx="3.79" ry="3.38" fill="#08249e" />
<ellipse cx="66.56" cy="7.28" rx="3.35" ry="4.07" fill="#08249e" />
<ellipse cx="30.8" cy="83.99" rx="4.36" ry="4.21" fill="#08249e" />
<ellipse cx="27.45" cy="5.75" rx="3.84" ry="3.92" fill="#08249e" />
</g>
<g filter="url(#cb08)">
<ellipse cx="8.24" cy="33.93" rx="2.88" ry="3.6" fill="#051a80" fill-opacity="0.6"/>
<ellipse cx="6.17" cy="12.2" rx="2.73" ry="2.73" fill="#051a80" fill-opacity="0.6"/>
<ellipse cx="27.22" cy="32.89" rx="2.16" ry="2.88" fill="#051a80" fill-opacity="0.6"/>
<ellipse cx="34.82" cy="32.36" rx="1.73" ry="2.45" fill="#051a80" fill-opacity="0.6"/>
<ellipse cx="38.53" cy="41.5" rx="2.88" ry="2.73" fill="#051a80" fill-opacity="0.6"/>
<ellipse cx="41.64" cy="25.58" rx="2.16" ry="1.73" fill="#051a80" fill-opacity="0.6"/>
<ellipse cx="49.85" cy="37.89" rx="2.45" ry="2.45" fill="#051a80" fill-opacity="0.6"/>
<ellipse cx="31.72" cy="14.27" rx="1.8" ry="1.44" fill="#051a80" fill-opacity="0.6"/>
<ellipse cx="41.25" cy="59.34" rx="3.6" ry="3.17" fill="#051a80" fill-opacity="0.6"/>
<ellipse cx="29.54" cy="63.34" rx="2.52" ry="2.16" fill="#051a80" fill-opacity="0.6"/>
<ellipse cx="52.56" cy="62.19" rx="2.88" ry="3.24" fill="#051a80" fill-opacity="0.6"/>
<ellipse cx="64.62" cy="62.3" rx="2.52" ry="2.52" fill="#051a80" fill-opacity="0.6"/>
<ellipse cx="74.11" cy="62.44" rx="1.73" ry="2.16" fill="#051a80" fill-opacity="0.6"/>
<ellipse cx="23.9" cy="72.19" rx="2.16" ry="2.16" fill="#051a80" fill-opacity="0.6"/>
<ellipse cx="76.43" cy="16.44" rx="2.88" ry="2.88" fill="#051a80" fill-opacity="0.6"/>
<ellipse cx="79.54" cy="54.48" rx="2.01" ry="3.6" fill="#051a80" fill-opacity="0.6"/>
<ellipse cx="68.47" cy="35.96" rx="2.73" ry="2.88" fill="#051a80" fill-opacity="0.6"/>
<ellipse cx="20.16" cy="22.62" rx="2.73" ry="3.24" fill="#051a80" fill-opacity="0.6"/>
<ellipse cx="44.46" cy="16.3" rx="2.88" ry="2.3" fill="#051a80" fill-opacity="0.6"/>
<ellipse cx="62.3" cy="49.2" rx="3.6" ry="3.31" fill="#051a80" fill-opacity="0.6"/>
<ellipse cx="56.41" cy="6.31" rx="1.58" ry="1.58" fill="#051a80" fill-opacity="0.6"/>
<ellipse cx="47.93" cy="-0.61" rx="1.42" ry="1.73" fill="#051a80" fill-opacity="0.6"/>
<ellipse cx="-1.35" cy="73.56" rx="1.39" ry="1.76" fill="#051a80" fill-opacity="0.6"/>
<ellipse cx="56.73" cy="27.9" rx="1.73" ry="1.56" fill="#051a80" fill-opacity="0.6"/>
<ellipse cx="3.21" cy="82.83" rx="1.55" ry="1.59" fill="#051a80" fill-opacity="0.6"/>
<ellipse cx="13.24" cy="80.6" rx="1.64" ry="1.72" fill="#051a80" fill-opacity="0.6"/>
<ellipse cx="79.96" cy="28.21" rx="1.61" ry="1.73" fill="#051a80" fill-opacity="0.6"/>
<ellipse cx="73.29" cy="0.94" rx="1.63" ry="1.78" fill="#051a80" fill-opacity="0.6"/>
<ellipse cx="50.89" cy="78.37" rx="1.8" ry="1.61" fill="#051a80" fill-opacity="0.6"/>
<ellipse cx="84.97" cy="12.05" rx="1.67" ry="1.46" fill="#051a80" fill-opacity="0.6"/>
<ellipse cx="66.06" cy="6.78" rx="1.45" ry="1.81" fill="#051a80" fill-opacity="0.6"/>
<ellipse cx="30.8" cy="84.24" rx="1.96" ry="1.88" fill="#051a80" fill-opacity="0.6"/>
<ellipse cx="27.95" cy="5.5" rx="1.69" ry="1.73" fill="#051a80" fill-opacity="0.6"/>
</g>
<rect width="83" height="83" fill="#03106a" filter="url(#tex7)" opacity="0.38"/>
<g filter="url(#cb06)">
<ellipse cx="19.66" cy="24.15" rx="4.1" ry="5.59" fill="#1442ee" />
<ellipse cx="44.71" cy="15.16" rx="4.84" ry="2.98" fill="#1442ee" />
<ellipse cx="67.19" cy="17.73" rx="2.98" ry="2.98" fill="#1442ee" />
<ellipse cx="73.61" cy="35.71" rx="4.1" ry="4.1" fill="#1442ee" />
<ellipse cx="62.05" cy="49.2" rx="6.71" ry="5.96" fill="#1442ee" />
<ellipse cx="37.64" cy="74.25" rx="5.22" ry="2.24" fill="#1442ee" />
<ellipse cx="56.91" cy="6.81" rx="1.86" ry="1.86" fill="#1442ee" />
<ellipse cx="19.66" cy="24.15" rx="1.41" ry="1.93" fill="#4cf048" fill-opacity="0.95"/>
<ellipse cx="44.71" cy="15.16" rx="1.67" ry="1.03" fill="#4cf048" fill-opacity="0.95"/>
<ellipse cx="67.19" cy="17.73" rx="1.03" ry="1.03" fill="#4cf048" fill-opacity="0.95"/>
<ellipse cx="73.61" cy="35.71" rx="1.41" ry="1.41" fill="#4cf048" fill-opacity="0.95"/>
<ellipse cx="62.05" cy="49.2" rx="2.31" ry="2.06" fill="#4cf048" fill-opacity="0.95"/>
<ellipse cx="37.64" cy="74.25" rx="1.8" ry="0.77" fill="#4cf048" fill-opacity="0.95"/>
<ellipse cx="56.91" cy="6.81" rx="0.64" ry="0.64" fill="#4cf048" fill-opacity="0.95"/>
</g>
<g filter="url(#cb03)" stroke="#52f24c" stroke-width="0.7" stroke-linecap="round">
<line x1="19.66" y1="24.15" x2="22.48" y2="24.15"/>
<line x1="19.66" y1="24.15" x2="22.63" y2="26.76"/>
<line x1="19.66" y1="24.15" x2="21.03" y2="28.24"/>
<line x1="19.66" y1="24.15" x2="19.22" y2="28.28"/>
<line x1="19.66" y1="24.15" x2="17.8" y2="27.06"/>
<line x1="19.66" y1="24.15" x2="16.27" y2="25.51"/>
<line x1="19.66" y1="24.15" x2="16.49" y2="22.89"/>
<line x1="19.66" y1="24.15" x2="17.65" y2="21"/>
<line x1="19.66" y1="24.15" x2="19.25" y2="20.34"/>
<line x1="19.66" y1="24.15" x2="21.12" y2="19.77"/>
<line x1="19.66" y1="24.15" x2="22.43" y2="21.72"/>
<line x1="44.71" y1="15.16" x2="48.55" y2="16.16"/>
<line x1="44.71" y1="15.16" x2="46.91" y2="17.14"/>
<line x1="44.71" y1="15.16" x2="44.81" y2="17.39"/>
<line x1="44.71" y1="15.16" x2="42.98" y2="16.92"/>
<line x1="44.71" y1="15.16" x2="40.96" y2="16.29"/>
<line x1="44.71" y1="15.16" x2="40.84" y2="14.89"/>
<line x1="44.71" y1="15.16" x2="41.91" y2="13.75"/>
<line x1="44.71" y1="15.16" x2="43.68" y2="13.2"/>
<line x1="44.71" y1="15.16" x2="45.77" y2="12.67"/>
<line x1="44.71" y1="15.16" x2="47.58" y2="13.54"/>
<line x1="44.71" y1="15.16" x2="48.27" y2="14.78"/>
<line x1="67.19" y1="17.73" x2="68.86" y2="19.45"/>
<line x1="67.19" y1="17.73" x2="67.63" y2="19.91"/>
<line x1="67.19" y1="17.73" x2="66.44" y2="19.64"/>
<line x1="67.19" y1="17.73" x2="65.11" y2="19.24"/>
<line x1="67.19" y1="17.73" x2="64.79" y2="17.86"/>
<line x1="67.19" y1="17.73" x2="65.25" y2="16.63"/>
<line x1="67.19" y1="17.73" x2="66.23" y2="15.91"/>
<line x1="67.19" y1="17.73" x2="67.41" y2="15.17"/>
<line x1="67.19" y1="17.73" x2="68.65" y2="15.83"/>
<line x1="67.19" y1="17.73" x2="69.29" y2="16.98"/>
<line x1="67.19" y1="17.73" x2="69.19" y2="18.19"/>
<line x1="73.61" y1="35.71" x2="74.72" y2="38.57"/>
<line x1="73.61" y1="35.71" x2="73.05" y2="38.48"/>
<line x1="73.61" y1="35.71" x2="71.15" y2="38.25"/>
<line x1="73.61" y1="35.71" x2="70.4" y2="36.46"/>
<line x1="73.61" y1="35.71" x2="70.73" y2="34.68"/>
<line x1="73.61" y1="35.71" x2="71.89" y2="33.48"/>
<line x1="73.61" y1="35.71" x2="73.31" y2="32.19"/>
<line x1="73.61" y1="35.71" x2="75.15" y2="32.8"/>
<line x1="73.61" y1="35.71" x2="76.28" y2="34.21"/>
<line x1="73.61" y1="35.71" x2="76.43" y2="35.88"/>
<line x1="73.61" y1="35.71" x2="76.47" y2="37.79"/>
<line x1="62.05" y1="49.2" x2="61.92" y2="53.31"/>
<line x1="62.05" y1="49.2" x2="58.78" y2="53.44"/>
<line x1="62.05" y1="49.2" x2="57.08" y2="51.07"/>
<line x1="62.05" y1="49.2" x2="57.11" y2="48.44"/>
<line x1="62.05" y1="49.2" x2="58.65" y2="46.42"/>
<line x1="62.05" y1="49.2" x2="60.58" y2="44.23"/>
<line x1="62.05" y1="49.2" x2="63.72" y2="44.64"/>
<line x1="62.05" y1="49.2" x2="65.93" y2="46.39"/>
<line x1="62.05" y1="49.2" x2="66.65" y2="48.74"/>
<line x1="62.05" y1="49.2" x2="67.24" y2="51.47"/>
<line x1="62.05" y1="49.2" x2="64.83" y2="53.31"/>
<line x1="37.64" y1="74.25" x2="35.77" y2="76.01"/>
<line x1="37.64" y1="74.25" x2="34.11" y2="75.23"/>
<line x1="37.64" y1="74.25" x2="33.74" y2="74.25"/>
<line x1="37.64" y1="74.25" x2="34.62" y2="73.42"/>
<line x1="37.64" y1="74.25" x2="35.78" y2="72.5"/>
<line x1="37.64" y1="74.25" x2="38.24" y2="72.47"/>
<line x1="37.64" y1="74.25" x2="40.2" y2="72.99"/>
<line x1="37.64" y1="74.25" x2="41.09" y2="73.82"/>
<line x1="37.64" y1="74.25" x2="41.95" y2="74.8"/>
<line x1="37.64" y1="74.25" x2="40.39" y2="75.62"/>
<line x1="37.64" y1="74.25" x2="38.19" y2="75.91"/>
<line x1="56.91" y1="6.81" x2="55.81" y2="7.82"/>
<line x1="56.91" y1="6.81" x2="55.54" y2="7.04"/>
<line x1="56.91" y1="6.81" x2="55.73" y2="6.31"/>
<line x1="56.91" y1="6.81" x2="56.01" y2="5.48"/>
<line x1="56.91" y1="6.81" x2="56.87" y2="5.31"/>
<line x1="56.91" y1="6.81" x2="57.63" y2="5.62"/>
<line x1="56.91" y1="6.81" x2="58.07" y2="6.24"/>
<line x1="56.91" y1="6.81" x2="58.51" y2="6.99"/>
<line x1="56.91" y1="6.81" x2="58.07" y2="7.76"/>
<line x1="56.91" y1="6.81" x2="57.34" y2="8.13"/>
<line x1="56.91" y1="6.81" x2="56.58" y2="8.05"/>
</g>
</g>
<rect x="3.8" y="78.3" width="5.4" height="2.6" fill="#0a140a"/>
<rect x="3.8" y="76.2" width="5.4" height="1.8" fill="#fff"/>
<text x="6.5" y="80.6" font-size="2.3" font-weight="bold" text-anchor="middle" fill="#e8e8e8">5μm</text>
</svg>
<svg x="511.9" y="133.9" width="83.3" height="82.6" viewBox="0 0 83 83" preserveAspectRatio="none" overflow="hidden">
<rect width="83" height="83" fill="#0f620e"/>
<g filter="url(#soft)">
<rect x="-3" y="-3" width="89" height="89" fill="#0f620e"/>
<g filter="url(#cb15)"><ellipse cx="20" cy="5" rx="8" ry="6" fill="#4ce844" fill-opacity="0.8"/><ellipse cx="11" cy="45" rx="5" ry="7" fill="#4ce844" fill-opacity="0.8"/></g>
<g filter="url(#dsp2)" fill="none" stroke="#46e040" stroke-width="1.5" stroke-opacity="0.85">
<ellipse cx="47.53" cy="18.37" rx="8.98" ry="7.44"/>
<ellipse cx="35.33" cy="11.31" rx="5.9" ry="5.12"/>
<ellipse cx="41.11" cy="33.79" rx="8.21" ry="8.21"/>
<ellipse cx="61.66" cy="35.71" rx="6.67" ry="8.21"/>
<ellipse cx="73.23" cy="33.79" rx="7.44" ry="8.21"/>
<ellipse cx="13.49" cy="27.36" rx="5.12" ry="6.67"/>
<ellipse cx="24.41" cy="37.64" rx="5.9" ry="7.44"/>
<ellipse cx="35.33" cy="45.99" rx="5.9" ry="7.44"/>
<ellipse cx="45.61" cy="53.7" rx="7.44" ry="8.98"/>
<ellipse cx="18.63" cy="54.98" rx="5.9" ry="6.67"/>
<ellipse cx="34.69" cy="63.34" rx="8.21" ry="5.9"/>
<ellipse cx="36.61" cy="74.25" rx="5.9" ry="5.9"/>
<ellipse cx="46.89" cy="75.54" rx="5.12" ry="6.67"/>
<ellipse cx="64.23" cy="67.19" rx="7.44" ry="6.67"/>
<ellipse cx="73.23" cy="56.91" rx="5.9" ry="6.67"/>
<ellipse cx="72.58" cy="75.54" rx="5.9" ry="5.9"/>
<ellipse cx="79.65" cy="67.83" rx="4.2" ry="5.9"/>
<ellipse cx="69.37" cy="17.73" rx="5.9" ry="5.9"/>
<ellipse cx="59.74" cy="10.02" rx="6.67" ry="6.67"/>
<ellipse cx="80.29" cy="20.3" rx="4.2" ry="5.9"/>
<ellipse cx="57.17" cy="75.54" rx="5.12" ry="5.12"/>
<ellipse cx="32.76" cy="20.94" rx="4.2" ry="4.2"/>
</g>
<rect width="83" height="83" fill="#50e048" filter="url(#tex7)" opacity="0.5"/>
<g filter="url(#dsp2)">
<ellipse cx="47.53" cy="18.37" rx="8.48" ry="6.94" fill="#042e04" fill-opacity="0.95"/>
<ellipse cx="35.33" cy="11.31" rx="5.4" ry="4.62" fill="#042e04" fill-opacity="0.95"/>
<ellipse cx="41.11" cy="33.79" rx="7.71" ry="7.71" fill="#042e04" fill-opacity="0.95"/>
<ellipse cx="61.66" cy="35.71" rx="6.17" ry="7.71" fill="#042e04" fill-opacity="0.95"/>
<ellipse cx="73.23" cy="33.79" rx="6.94" ry="7.71" fill="#042e04" fill-opacity="0.95"/>
<ellipse cx="13.49" cy="27.36" rx="4.62" ry="6.17" fill="#042e04" fill-opacity="0.95"/>
<ellipse cx="24.41" cy="37.64" rx="5.4" ry="6.94" fill="#042e04" fill-opacity="0.95"/>
<ellipse cx="35.33" cy="45.99" rx="5.4" ry="6.94" fill="#042e04" fill-opacity="0.95"/>
<ellipse cx="45.61" cy="53.7" rx="6.94" ry="8.48" fill="#042e04" fill-opacity="0.95"/>
<ellipse cx="18.63" cy="54.98" rx="5.4" ry="6.17" fill="#042e04" fill-opacity="0.95"/>
<ellipse cx="34.69" cy="63.34" rx="7.71" ry="5.4" fill="#042e04" fill-opacity="0.95"/>
<ellipse cx="36.61" cy="74.25" rx="5.4" ry="5.4" fill="#042e04" fill-opacity="0.95"/>
<ellipse cx="46.89" cy="75.54" rx="4.62" ry="6.17" fill="#042e04" fill-opacity="0.95"/>
<ellipse cx="64.23" cy="67.19" rx="6.94" ry="6.17" fill="#042e04" fill-opacity="0.95"/>
<ellipse cx="73.23" cy="56.91" rx="5.4" ry="6.17" fill="#042e04" fill-opacity="0.95"/>
<ellipse cx="72.58" cy="75.54" rx="5.4" ry="5.4" fill="#042e04" fill-opacity="0.95"/>
<ellipse cx="79.65" cy="67.83" rx="3.7" ry="5.4" fill="#042e04" fill-opacity="0.95"/>
<ellipse cx="69.37" cy="17.73" rx="5.4" ry="5.4" fill="#042e04" fill-opacity="0.95"/>
<ellipse cx="59.74" cy="10.02" rx="6.17" ry="6.17" fill="#042e04" fill-opacity="0.95"/>
<ellipse cx="80.29" cy="20.3" rx="3.7" ry="5.4" fill="#042e04" fill-opacity="0.95"/>
<ellipse cx="57.17" cy="75.54" rx="4.62" ry="4.62" fill="#042e04" fill-opacity="0.95"/>
<ellipse cx="32.76" cy="20.94" rx="3.7" ry="3.7" fill="#042e04" fill-opacity="0.95"/>
<ellipse cx="55.88" cy="45.99" rx="4.62" ry="4.62" fill="#042e04" fill-opacity="0.47"/>
<ellipse cx="66.16" cy="44.71" rx="5.4" ry="3.85" fill="#042e04" fill-opacity="0.47"/>
</g>
<rect width="83" height="83" fill="#50e048" filter="url(#tex8)" opacity="0.12"/>
<g filter="url(#cb15)">
<polygon points="-3,-3 16,-3 10,8 5,18 8,30 3,40 -3,44" fill="#010d01"/>
<polygon points="-3,50 4,52 10,56 18,64 24,74 26,86 -3,86" fill="#010d01"/>
<polygon points="74,-3 86,-3 86,10 80,6" fill="#010d01"/>
</g>
</g>
<rect x="3.8" y="78.3" width="5.4" height="2.6" fill="#0a140a"/>
<rect x="3.8" y="76.2" width="5.4" height="1.8" fill="#fff"/>
<text x="6.5" y="80.6" font-size="2.3" font-weight="bold" text-anchor="middle" fill="#e8e8e8">5μm</text>
</svg>
<svg x="597.2" y="133.9" width="83.9" height="82.6" viewBox="0 0 83 83" preserveAspectRatio="none" overflow="hidden">
<rect width="83" height="83" fill="#0f620e"/>
<g filter="url(#soft)">
<rect x="-3" y="-3" width="89" height="89" fill="#0f620e"/>
<g filter="url(#cb15)"><ellipse cx="20" cy="5" rx="8" ry="6" fill="#4ce844" fill-opacity="0.8"/><ellipse cx="11" cy="45" rx="5" ry="7" fill="#4ce844" fill-opacity="0.8"/></g>
<g filter="url(#dsp2)" fill="none" stroke="#46e040" stroke-width="1.5" stroke-opacity="0.85">
<ellipse cx="47.53" cy="18.37" rx="8.98" ry="7.44"/>
<ellipse cx="35.33" cy="11.31" rx="5.9" ry="5.12"/>
<ellipse cx="41.11" cy="33.79" rx="8.21" ry="8.21"/>
<ellipse cx="61.66" cy="35.71" rx="6.67" ry="8.21"/>
<ellipse cx="73.23" cy="33.79" rx="7.44" ry="8.21"/>
<ellipse cx="13.49" cy="27.36" rx="5.12" ry="6.67"/>
<ellipse cx="24.41" cy="37.64" rx="5.9" ry="7.44"/>
<ellipse cx="35.33" cy="45.99" rx="5.9" ry="7.44"/>
<ellipse cx="45.61" cy="53.7" rx="7.44" ry="8.98"/>
<ellipse cx="18.63" cy="54.98" rx="5.9" ry="6.67"/>
<ellipse cx="34.69" cy="63.34" rx="8.21" ry="5.9"/>
<ellipse cx="36.61" cy="74.25" rx="5.9" ry="5.9"/>
<ellipse cx="46.89" cy="75.54" rx="5.12" ry="6.67"/>
<ellipse cx="64.23" cy="67.19" rx="7.44" ry="6.67"/>
<ellipse cx="73.23" cy="56.91" rx="5.9" ry="6.67"/>
<ellipse cx="72.58" cy="75.54" rx="5.9" ry="5.9"/>
<ellipse cx="79.65" cy="67.83" rx="4.2" ry="5.9"/>
<ellipse cx="69.37" cy="17.73" rx="5.9" ry="5.9"/>
<ellipse cx="59.74" cy="10.02" rx="6.67" ry="6.67"/>
<ellipse cx="80.29" cy="20.3" rx="4.2" ry="5.9"/>
<ellipse cx="57.17" cy="75.54" rx="5.12" ry="5.12"/>
<ellipse cx="32.76" cy="20.94" rx="4.2" ry="4.2"/>
</g>
<rect width="83" height="83" fill="#50e048" filter="url(#tex8)" opacity="0.5"/>
<rect x="-3" y="-3" width="89" height="89" fill="#00142c" fill-opacity="0.22"/>
<g filter="url(#dsp2)">
<ellipse cx="47.53" cy="18.37" rx="8.93" ry="7.39" fill="#0926b8" />
<ellipse cx="35.33" cy="11.31" rx="5.85" ry="5.07" fill="#0926b8" />
<ellipse cx="41.11" cy="33.79" rx="8.16" ry="8.16" fill="#0926b8" />
<ellipse cx="61.66" cy="35.71" rx="6.62" ry="8.16" fill="#0926b8" />
<ellipse cx="73.23" cy="33.79" rx="7.39" ry="8.16" fill="#0926b8" />
<ellipse cx="13.49" cy="27.36" rx="5.07" ry="6.62" fill="#0926b8" />
<ellipse cx="24.41" cy="37.64" rx="5.85" ry="7.39" fill="#0926b8" />
<ellipse cx="35.33" cy="45.99" rx="5.85" ry="7.39" fill="#0926b8" />
<ellipse cx="45.61" cy="53.7" rx="7.39" ry="8.93" fill="#0926b8" />
<ellipse cx="18.63" cy="54.98" rx="5.85" ry="6.62" fill="#0926b8" />
<ellipse cx="34.69" cy="63.34" rx="8.16" ry="5.85" fill="#0926b8" />
<ellipse cx="36.61" cy="74.25" rx="5.85" ry="5.85" fill="#0926b8" />
<ellipse cx="46.89" cy="75.54" rx="5.07" ry="6.62" fill="#0926b8" />
<ellipse cx="64.23" cy="67.19" rx="7.39" ry="6.62" fill="#0926b8" />
<ellipse cx="73.23" cy="56.91" rx="5.85" ry="6.62" fill="#0926b8" />
<ellipse cx="72.58" cy="75.54" rx="5.85" ry="5.85" fill="#0926b8" />
<ellipse cx="79.65" cy="67.83" rx="4.15" ry="5.85" fill="#0926b8" />
<ellipse cx="69.37" cy="17.73" rx="5.85" ry="5.85" fill="#0926b8" />
<ellipse cx="59.74" cy="10.02" rx="6.62" ry="6.62" fill="#0926b8" />
<ellipse cx="80.29" cy="20.3" rx="4.15" ry="5.85" fill="#0926b8" />
<ellipse cx="57.17" cy="75.54" rx="5.07" ry="5.07" fill="#0926b8" />
<ellipse cx="32.76" cy="20.94" rx="4.15" ry="4.15" fill="#0926b8" />
<ellipse cx="55.88" cy="45.99" rx="4.62" ry="4.62" fill="#0926b8" fill-opacity="0.55"/>
<ellipse cx="66.16" cy="44.71" rx="5.4" ry="3.85" fill="#0926b8" fill-opacity="0.55"/>
</g>
<g filter="url(#cb08)">
<ellipse cx="47.03" cy="17.87" rx="4.24" ry="3.47" fill="#051a80" fill-opacity="0.6"/>
<ellipse cx="35.33" cy="11.56" rx="2.7" ry="2.31" fill="#051a80" fill-opacity="0.6"/>
<ellipse cx="41.61" cy="33.54" rx="3.85" ry="3.85" fill="#051a80" fill-opacity="0.6"/>
<ellipse cx="61.41" cy="36.21" rx="3.08" ry="3.85" fill="#051a80" fill-opacity="0.6"/>
<ellipse cx="73.48" cy="33.79" rx="3.47" ry="3.85" fill="#051a80" fill-opacity="0.6"/>
<ellipse cx="12.99" cy="26.86" rx="2.31" ry="3.08" fill="#051a80" fill-opacity="0.6"/>
<ellipse cx="24.41" cy="37.89" rx="2.7" ry="3.47" fill="#051a80" fill-opacity="0.6"/>
<ellipse cx="35.83" cy="45.74" rx="2.7" ry="3.47" fill="#051a80" fill-opacity="0.6"/>
<ellipse cx="45.36" cy="54.2" rx="3.47" ry="4.24" fill="#051a80" fill-opacity="0.6"/>
<ellipse cx="18.88" cy="54.98" rx="2.7" ry="3.08" fill="#051a80" fill-opacity="0.6"/>
<ellipse cx="34.19" cy="62.84" rx="3.85" ry="2.7" fill="#051a80" fill-opacity="0.6"/>
<ellipse cx="36.61" cy="74.5" rx="2.7" ry="2.7" fill="#051a80" fill-opacity="0.6"/>
<ellipse cx="47.39" cy="75.29" rx="2.31" ry="3.08" fill="#051a80" fill-opacity="0.6"/>
<ellipse cx="63.98" cy="67.69" rx="3.47" ry="3.08" fill="#051a80" fill-opacity="0.6"/>
<ellipse cx="73.48" cy="56.91" rx="2.7" ry="3.08" fill="#051a80" fill-opacity="0.6"/>
<ellipse cx="72.08" cy="75.04" rx="2.7" ry="2.7" fill="#051a80" fill-opacity="0.6"/>
<ellipse cx="79.65" cy="68.08" rx="1.85" ry="2.7" fill="#051a80" fill-opacity="0.6"/>
<ellipse cx="69.87" cy="17.48" rx="2.7" ry="2.7" fill="#051a80" fill-opacity="0.6"/>
<ellipse cx="59.49" cy="10.52" rx="3.08" ry="3.08" fill="#051a80" fill-opacity="0.6"/>
<ellipse cx="80.54" cy="20.3" rx="1.85" ry="2.7" fill="#051a80" fill-opacity="0.6"/>
<ellipse cx="56.67" cy="75.04" rx="2.31" ry="2.31" fill="#051a80" fill-opacity="0.6"/>
<ellipse cx="32.76" cy="21.19" rx="1.85" ry="1.85" fill="#051a80" fill-opacity="0.6"/>
</g>
<rect width="83" height="83" fill="#03106a" filter="url(#tex1)" opacity="0.38"/>
<g filter="url(#cb15)">
<polygon points="-3,-3 16,-3 10,8 5,18 8,30 3,40 -3,44" fill="#010d01"/>
<polygon points="-3,50 4,52 10,56 18,64 24,74 26,86 -3,86" fill="#010d01"/>
<polygon points="74,-3 86,-3 86,10 80,6" fill="#010d01"/>
</g>
<g filter="url(#cb08)">
<ellipse cx="3" cy="32" rx="4" ry="6" fill="#1238d8" />
<ellipse cx="2" cy="47" rx="3.5" ry="6" fill="#1238d8" />
<ellipse cx="18" cy="73" rx="5.5" ry="5.5" fill="#0b2cc8" />
</g>
</g>
<rect x="3.8" y="78.3" width="5.4" height="2.6" fill="#0a140a"/>
<rect x="3.8" y="76.2" width="5.4" height="1.8" fill="#fff"/>
<text x="6.5" y="80.6" font-size="2.3" font-weight="bold" text-anchor="middle" fill="#e8e8e8">5μm</text>
</svg>
<text x="376.1" y="231.4" font-size="7.9" font-weight="bold" text-anchor="middle" fill="#000" >Tubulin</text>
<text x="460.9" y="231.4" font-size="8.1" font-weight="bold" text-anchor="middle" fill="#000" >Tubulin + Nuclear Stain</text>
<text x="552" y="231.4" font-size="7.9" font-weight="bold" text-anchor="middle" fill="#000" >Tubulin</text>
<text x="595.3" y="231.4" font-size="8.1" font-weight="bold" text-anchor="start" fill="#000" >Tubulin + Nuclear Stain</text>
</g>
<g id="panelD">
<text x="299.1" y="270" font-size="22.8" font-weight="bold" text-anchor="start" fill="#000" >D</text>
<line x1="404.4" y1="286.6" x2="404.4" y2="420.35" stroke="#333" stroke-width="1.15" />
<line x1="403.85" y1="419.8" x2="574" y2="419.8" stroke="#333" stroke-width="1.15" />
<line x1="401.6" y1="419.8" x2="404.4" y2="419.8" stroke="#222" stroke-width="1" />
<line x1="402.4" y1="400.82" x2="404.4" y2="400.82" stroke="#222" stroke-width="1" />
<line x1="401.6" y1="381.85" x2="404.4" y2="381.85" stroke="#222" stroke-width="1" />
<line x1="402.4" y1="362.88" x2="404.4" y2="362.88" stroke="#222" stroke-width="1" />
<line x1="401.6" y1="343.9" x2="404.4" y2="343.9" stroke="#222" stroke-width="1" />
<line x1="402.4" y1="324.93" x2="404.4" y2="324.93" stroke="#222" stroke-width="1" />
<line x1="401.6" y1="305.95" x2="404.4" y2="305.95" stroke="#222" stroke-width="1" />
<line x1="402.4" y1="286.98" x2="404.4" y2="286.98" stroke="#222" stroke-width="1" />
<text x="400" y="423.1" font-size="8.4" font-weight="bold" text-anchor="end" fill="#000" >0.0</text>
<text x="400" y="385.15" font-size="8.4" font-weight="bold" text-anchor="end" fill="#000" >0.5</text>
<text x="400" y="347.2" font-size="8.4" font-weight="bold" text-anchor="end" fill="#000" >1.0</text>
<text x="400" y="309.25" font-size="8.4" font-weight="bold" text-anchor="end" fill="#000" >1.5</text>
<line x1="430.5" y1="419.8" x2="430.5" y2="423" stroke="#222" stroke-width="1" />
<line x1="469.4" y1="419.8" x2="469.4" y2="423" stroke="#222" stroke-width="1" />
<line x1="508.5" y1="419.8" x2="508.5" y2="423" stroke="#222" stroke-width="1" />
<line x1="547.5" y1="419.8" x2="547.5" y2="423" stroke="#222" stroke-width="1" />
<text transform="translate(369 359) rotate(-90)" font-size="9.68" font-weight="bold" text-anchor="middle" fill="#000" >Microtubule Fluorescence</text>
<text transform="translate(380.2 359.2) rotate(-90)" font-size="9.6" font-weight="bold" text-anchor="middle" fill="#000" >Intensity</text>
<text transform="translate(429.3 430.6) rotate(-47.5)" font-size="9.95" font-weight="bold" text-anchor="end" fill="#000" >EV_Vehicle</text>
<text transform="translate(471 430.6) rotate(-47.5)" font-size="9.95" font-weight="bold" text-anchor="end" fill="#000" >EV_DTX</text>
<text transform="translate(510.1 430.6) rotate(-47.5)" font-size="9.95" font-weight="bold" text-anchor="end" fill="#000" >FOXJ1_OE_Vehicle</text>
<text transform="translate(553 430.6) rotate(-47.5)" font-size="9.95" font-weight="bold" text-anchor="end" fill="#000" >FOXJ1_OE_DTX</text>
<circle cx="425.1" cy="362.2" r="2.6" fill="#1540ff" />
<circle cx="435.8" cy="362.2" r="2.6" fill="#1540ff" />
<circle cx="430.4" cy="374.2" r="2.6" fill="#1540ff" />
<circle cx="419.7" cy="377.4" r="2.6" fill="#1540ff" />
<circle cx="441.2" cy="377.4" r="2.6" fill="#1540ff" />
<circle cx="430.4" cy="380.7" r="2.6" fill="#1540ff" />
<circle cx="419.7" cy="384.1" r="2.6" fill="#1540ff" />
<circle cx="441.2" cy="384.1" r="2.6" fill="#1540ff" />
<circle cx="430.4" cy="387.6" r="2.6" fill="#1540ff" />
<circle cx="430.4" cy="393.9" r="2.6" fill="#1540ff" />
<line x1="423.4" y1="375.2" x2="437.2" y2="375.2" stroke="#1540ff" stroke-width="1" stroke-opacity="0.75"/>
<line x1="423.4" y1="381.6" x2="437.2" y2="381.6" stroke="#1540ff" stroke-width="1" stroke-opacity="0.75"/>
<line x1="430.4" y1="375.2" x2="430.4" y2="381.6" stroke="#1540ff" stroke-width="1" stroke-opacity="0.75"/>
<line x1="419.5" y1="378.5" x2="441.5" y2="378.5" stroke="#333" stroke-width="1.1" />
<circle cx="458.7" cy="350.1" r="2.6" fill="#ff2a00" />
<circle cx="473" cy="347.6" r="2.6" fill="#ff2a00" />
<circle cx="466" cy="354.5" r="2.6" fill="#ff2a00" />
<circle cx="473" cy="353" r="2.6" fill="#ff2a00" />
<circle cx="480.1" cy="353" r="2.6" fill="#ff2a00" />
<circle cx="469.5" cy="359.9" r="2.6" fill="#ff2a00" />
<circle cx="466" cy="369.1" r="2.6" fill="#ff2a00" />
<circle cx="480.1" cy="368.8" r="2.6" fill="#ff2a00" />
<circle cx="473" cy="372.7" r="2.6" fill="#ff2a00" />
<circle cx="469.5" cy="380.4" r="2.6" fill="#ff2a00" />
<line x1="462.8" y1="357.4" x2="476.2" y2="357.4" stroke="#ff2a00" stroke-width="1" stroke-opacity="0.75"/>
<line x1="462.8" y1="364.4" x2="476.2" y2="364.4" stroke="#ff2a00" stroke-width="1" stroke-opacity="0.75"/>
<line x1="469.5" y1="357.4" x2="469.5" y2="364.4" stroke="#ff2a00" stroke-width="1" stroke-opacity="0.75"/>
<line x1="456.2" y1="361.2" x2="482.9" y2="361.2" stroke="#333" stroke-width="1.1" />
<circle cx="498" cy="327.4" r="2.6" fill="#9a1f9a" />
<circle cx="508.6" cy="328.9" r="2.6" fill="#9a1f9a" />
<circle cx="508.6" cy="346.4" r="2.6" fill="#9a1f9a" />
<circle cx="498" cy="352.3" r="2.6" fill="#9a1f9a" />
<circle cx="508.6" cy="353.7" r="2.6" fill="#9a1f9a" />
<circle cx="508.6" cy="359.3" r="2.6" fill="#9a1f9a" />
<circle cx="503.4" cy="369.8" r="2.6" fill="#9a1f9a" />
<circle cx="514" cy="370.5" r="2.6" fill="#9a1f9a" />
<circle cx="508.6" cy="376.4" r="2.6" fill="#9a1f9a" />
<circle cx="498" cy="379.6" r="2.6" fill="#9a1f9a" />
<circle cx="519.4" cy="378.1" r="2.6" fill="#9a1f9a" />
<line x1="501.9" y1="352.4" x2="515.5" y2="352.4" stroke="#9a1f9a" stroke-width="1" stroke-opacity="0.75"/>
<line x1="501.9" y1="364.1" x2="515.5" y2="364.1" stroke="#9a1f9a" stroke-width="1" stroke-opacity="0.75"/>
<line x1="508.6" y1="352.4" x2="508.6" y2="364.1" stroke="#9a1f9a" stroke-width="1" stroke-opacity="0.75"/>
<line x1="495.3" y1="358.4" x2="522" y2="358.4" stroke="#333" stroke-width="1.1" />
<circle cx="547.6" cy="306.3" r="2.6" fill="#0cae1c" />
<circle cx="542.3" cy="323.5" r="2.6" fill="#0cae1c" />
<circle cx="547.6" cy="326" r="2.6" fill="#0cae1c" />
<circle cx="553" cy="322.9" r="2.6" fill="#0cae1c" />
<circle cx="542.3" cy="341.6" r="2.6" fill="#0cae1c" />
<circle cx="553" cy="343.2" r="2.6" fill="#0cae1c" />
<circle cx="558.4" cy="347.6" r="2.6" fill="#0cae1c" />
<circle cx="542.3" cy="353" r="2.6" fill="#0cae1c" />
<circle cx="547.6" cy="353" r="2.6" fill="#0cae1c" />
<circle cx="553" cy="352.3" r="2.6" fill="#0cae1c" />
<circle cx="536.9" cy="355.5" r="2.6" fill="#0cae1c" />
<circle cx="558.4" cy="355.9" r="2.6" fill="#0cae1c" />
<circle cx="542.3" cy="359.9" r="2.6" fill="#0cae1c" />
<circle cx="553" cy="359.3" r="2.6" fill="#0cae1c" />
<circle cx="547.6" cy="362.2" r="2.6" fill="#0cae1c" />
<circle cx="547.6" cy="368.3" r="2.6" fill="#0cae1c" />
<circle cx="542.3" cy="372" r="2.6" fill="#0cae1c" />
<circle cx="553" cy="370.5" r="2.6" fill="#0cae1c" />
<line x1="540.8" y1="344.2" x2="554.4" y2="344.2" stroke="#0cae1c" stroke-width="1" stroke-opacity="0.75"/>
<line x1="540.8" y1="352.3" x2="554.4" y2="352.3" stroke="#0cae1c" stroke-width="1" stroke-opacity="0.75"/>
<line x1="547.6" y1="344.2" x2="547.6" y2="352.3" stroke="#0cae1c" stroke-width="1" stroke-opacity="0.75"/>
<line x1="534.5" y1="348.2" x2="561" y2="348.2" stroke="#333" stroke-width="1.1" />
<polyline points="425.1,352.6 425.1,291.2 503.5,291.2 503.5,319.6" fill="none" stroke="#ff2a00" stroke-width="0.95" />
<line x1="461.3" y1="289.6" x2="461.3" y2="292.8" stroke="#ff2a00" stroke-width="1" />
<line x1="472.7" y1="289.6" x2="472.7" y2="292.8" stroke="#ff2a00" stroke-width="1" />
<text x="465.3" y="291.8" font-size="13.5" font-weight="bold" text-anchor="middle" fill="#e8101a" >*</text>
<polyline points="430.3,358.8 430.3,300.1 469.5,300.1 469.5,344.7" fill="none" stroke="#1540ff" stroke-width="0.9" />
<text x="450" y="303.4" font-size="14" font-weight="bold" text-anchor="middle" fill="#1540ff" >**</text>
<polyline points="509.4,319.2 509.4,291.2 547.6,291.2 547.6,300.1" fill="none" stroke="#111" stroke-width="1" />
<text x="530" y="287.5" font-size="5.6" font-weight="bold" text-anchor="middle" fill="#000" >NS</text>
</g>
<g id="panelE">
<text x="0" y="503.1" font-size="24.5" font-weight="bold" text-anchor="start" fill="#000" >E</text>
<line x1="77.5" y1="476.6" x2="77.5" y2="639.8" stroke="#333" stroke-width="1.1" />
<line x1="77" y1="639.3" x2="269.4" y2="639.3" stroke="#333" stroke-width="1.1" />
<line x1="73.8" y1="639.3" x2="77.5" y2="639.3" stroke="#222" stroke-width="1" />
<line x1="75.3" y1="615.3" x2="77.5" y2="615.3" stroke="#222" stroke-width="1" />
<line x1="73.8" y1="591.3" x2="77.5" y2="591.3" stroke="#222" stroke-width="1" />
<line x1="75.3" y1="567.3" x2="77.5" y2="567.3" stroke="#222" stroke-width="1" />
<line x1="73.8" y1="543.3" x2="77.5" y2="543.3" stroke="#222" stroke-width="1" />
<line x1="75.3" y1="519.3" x2="77.5" y2="519.3" stroke="#222" stroke-width="1" />
<line x1="73.8" y1="495.3" x2="77.5" y2="495.3" stroke="#222" stroke-width="1" />
<text x="73.3" y="642.2" font-size="7.8" font-weight="bold" text-anchor="end" fill="#000" >0.0</text>
<text x="73.3" y="594.2" font-size="7.8" font-weight="bold" text-anchor="end" fill="#000" >0.5</text>
<text x="73.3" y="546.2" font-size="7.8" font-weight="bold" text-anchor="end" fill="#000" >1.0</text>
<text x="73.3" y="498.2" font-size="7.8" font-weight="bold" text-anchor="end" fill="#000" >1.5</text>
<line x1="106.6" y1="639.3" x2="106.6" y2="641.9" stroke="#222" stroke-width="1" />
<line x1="151.3" y1="639.3" x2="151.3" y2="641.9" stroke="#222" stroke-width="1" />
<line x1="195.6" y1="639.3" x2="195.6" y2="641.9" stroke="#222" stroke-width="1" />
<line x1="240.2" y1="639.3" x2="240.2" y2="641.9" stroke="#222" stroke-width="1" />
<text transform="translate(45.2 572.2) rotate(-90)" font-size="9.25" font-weight="bold" text-anchor="middle" fill="#000" >Microtubule Fluorescence</text>
<text transform="translate(56.2 572.5) rotate(-90)" font-size="9.25" font-weight="bold" text-anchor="middle" fill="#000" >Intensity</text>
<g transform="translate(72.2 685.8) rotate(-46.5)" font-size="8.1" font-weight="bold">
<text x="0" y="0">EV_10 days</text>
<text x="0" y="10.3">after 2<tspan font-size="4.8" dy="-2.5">nd</tspan><tspan dy="2.5"> DTX</tspan></text>
</g>
<g transform="translate(117.3 685.7) rotate(-46.5)" font-size="8.1" font-weight="bold">
<text x="0" y="0">EV_3 days</text>
<text x="0" y="10.3">after 2<tspan font-size="4.8" dy="-2.5">nd</tspan><tspan dy="2.5"> DTX</tspan></text>
</g>
<g transform="translate(149.3 705.5) rotate(-46.5)" font-size="8.1" font-weight="bold">
<text x="0" y="0">FOXJ1_OE_10 days</text>
<text x="0" y="10.3">after 2<tspan font-size="4.8" dy="-2.5">nd</tspan><tspan dy="2.5"> DTX</tspan></text>
</g>
<g transform="translate(200.6 703.6) rotate(-46.5)" font-size="8.1" font-weight="bold">
<text x="0" y="0">FOXJ1_OE_3 days</text>
<text x="0" y="10.3">after 2<tspan font-size="4.8" dy="-2.5">nd</tspan><tspan dy="2.5"> DTX</tspan></text>
</g>
<circle cx="106.6" cy="550.6" r="2.85" fill="#1540ff" />
<circle cx="106.6" cy="560.2" r="2.85" fill="#1540ff" />
<circle cx="94.8" cy="570.1" r="2.85" fill="#1540ff" />
<circle cx="112.5" cy="570.1" r="2.85" fill="#1540ff" />
<circle cx="118.7" cy="572.3" r="2.85" fill="#1540ff" />
<circle cx="100.7" cy="575.1" r="2.85" fill="#1540ff" />
<circle cx="112.5" cy="576.6" r="2.85" fill="#1540ff" />
<circle cx="106.6" cy="579.5" r="2.85" fill="#1540ff" />
<circle cx="94.8" cy="588.9" r="2.85" fill="#1540ff" />
<circle cx="100.7" cy="590.4" r="2.85" fill="#1540ff" />
<circle cx="106.6" cy="588.9" r="2.85" fill="#1540ff" />
<circle cx="112.5" cy="588.9" r="2.85" fill="#1540ff" />
<circle cx="118.7" cy="588.9" r="2.85" fill="#1540ff" />
<circle cx="112.5" cy="595.2" r="2.85" fill="#1540ff" />
<circle cx="106.6" cy="599.2" r="2.85" fill="#1540ff" />
<circle cx="106.6" cy="608.4" r="2.85" fill="#1540ff" />
<line x1="99.6" y1="577.2" x2="114.3" y2="577.2" stroke="#1540ff" stroke-width="1" stroke-opacity="0.75"/>
<line x1="99.6" y1="585.4" x2="114.3" y2="585.4" stroke="#1540ff" stroke-width="1" stroke-opacity="0.75"/>
<line x1="106.6" y1="577.2" x2="106.6" y2="585.4" stroke="#1540ff" stroke-width="1" stroke-opacity="0.75"/>
<line x1="92" y1="581.2" x2="122" y2="581.2" stroke="#333" stroke-width="1.1" />
<circle cx="151.3" cy="521.9" r="2.85" fill="#ff2a00" />
<circle cx="147.1" cy="534.2" r="2.85" fill="#ff2a00" />
<circle cx="155.2" cy="532.4" r="2.85" fill="#ff2a00" />
<circle cx="139.5" cy="549.9" r="2.85" fill="#ff2a00" />
<circle cx="147.1" cy="553.2" r="2.85" fill="#ff2a00" />
<circle cx="155.2" cy="549.5" r="2.85" fill="#ff2a00" />
<circle cx="143.9" cy="558" r="2.85" fill="#ff2a00" />
<circle cx="157.4" cy="558" r="2.85" fill="#ff2a00" />
<circle cx="163.1" cy="557.6" r="2.85" fill="#ff2a00" />
<circle cx="151.3" cy="560.2" r="2.85" fill="#ff2a00" />
<circle cx="147.1" cy="571.8" r="2.85" fill="#ff2a00" />
<circle cx="155.2" cy="571.8" r="2.85" fill="#ff2a00" />
<circle cx="151.3" cy="578.8" r="2.85" fill="#ff2a00" />
<circle cx="143.4" cy="588.9" r="2.85" fill="#ff2a00" />
<circle cx="151.3" cy="588.9" r="2.85" fill="#ff2a00" />
<circle cx="159.2" cy="588.9" r="2.85" fill="#ff2a00" />
<line x1="143.9" y1="555" x2="158.7" y2="555" stroke="#ff2a00" stroke-width="1" stroke-opacity="0.75"/>
<line x1="143.9" y1="565.7" x2="158.7" y2="565.7" stroke="#ff2a00" stroke-width="1" stroke-opacity="0.75"/>
<line x1="151.3" y1="555" x2="151.3" y2="565.7" stroke="#ff2a00" stroke-width="1" stroke-opacity="0.75"/>
<line x1="136.6" y1="560.2" x2="166.2" y2="560.2" stroke="#333" stroke-width="1.1" />
<circle cx="189.6" cy="538.5" r="2.85" fill="#9a1f9a" />
<circle cx="196" cy="540.5" r="2.85" fill="#9a1f9a" />
<circle cx="189.6" cy="550.6" r="2.85" fill="#9a1f9a" />
<circle cx="195.5" cy="550.6" r="2.85" fill="#9a1f9a" />
<circle cx="201.9" cy="550.6" r="2.85" fill="#9a1f9a" />
<circle cx="183.5" cy="571.2" r="2.85" fill="#9a1f9a" />
<circle cx="189.6" cy="572.5" r="2.85" fill="#9a1f9a" />
<circle cx="195.5" cy="569.6" r="2.85" fill="#9a1f9a" />
<circle cx="201.9" cy="568.5" r="2.85" fill="#9a1f9a" />
<circle cx="208" cy="572.3" r="2.85" fill="#9a1f9a" />
<circle cx="201.9" cy="574" r="2.85" fill="#9a1f9a" />
<circle cx="195.5" cy="577.3" r="2.85" fill="#9a1f9a" />
<circle cx="189.6" cy="579" r="2.85" fill="#9a1f9a" />
<circle cx="201.9" cy="580.1" r="2.85" fill="#9a1f9a" />
<circle cx="195.5" cy="583.2" r="2.85" fill="#9a1f9a" />
<circle cx="195.5" cy="602.5" r="2.85" fill="#9a1f9a" />
<line x1="188.3" y1="563.5" x2="203.2" y2="563.5" stroke="#9a1f9a" stroke-width="1" stroke-opacity="0.75"/>
<line x1="188.3" y1="571" x2="203.2" y2="571" stroke="#9a1f9a" stroke-width="1" stroke-opacity="0.75"/>
<line x1="195.5" y1="563.5" x2="195.5" y2="571" stroke="#9a1f9a" stroke-width="1" stroke-opacity="0.75"/>
<line x1="181.1" y1="567.2" x2="210.7" y2="567.2" stroke="#333" stroke-width="1.1" />
<circle cx="236.3" cy="531.3" r="2.85" fill="#0cae1c" />
<circle cx="244.2" cy="536.1" r="2.85" fill="#0cae1c" />
<circle cx="236.3" cy="540.7" r="2.85" fill="#0cae1c" />
<circle cx="228.4" cy="550.6" r="2.85" fill="#0cae1c" />
<circle cx="244.2" cy="550.6" r="2.85" fill="#0cae1c" />
<circle cx="252.3" cy="550.6" r="2.85" fill="#0cae1c" />
<circle cx="236.3" cy="555" r="2.85" fill="#0cae1c" />
<circle cx="244.2" cy="558" r="2.85" fill="#0cae1c" />
<circle cx="240.2" cy="563.7" r="2.85" fill="#0cae1c" />
<circle cx="236.3" cy="576.2" r="2.85" fill="#0cae1c" />
<circle cx="244.2" cy="575.5" r="2.85" fill="#0cae1c" />
<circle cx="252.3" cy="576.6" r="2.85" fill="#0cae1c" />
<circle cx="244.2" cy="581" r="2.85" fill="#0cae1c" />
<circle cx="240.2" cy="588.9" r="2.85" fill="#0cae1c" />
<circle cx="244.2" cy="596.3" r="2.85" fill="#0cae1c" />
<circle cx="236.3" cy="599.2" r="2.85" fill="#0cae1c" />
<line x1="232.8" y1="559.1" x2="247.4" y2="559.1" stroke="#0cae1c" stroke-width="1" stroke-opacity="0.75"/>
<line x1="232.8" y1="569.6" x2="247.4" y2="569.6" stroke="#0cae1c" stroke-width="1" stroke-opacity="0.75"/>
<line x1="240.2" y1="559.1" x2="240.2" y2="569.6" stroke="#0cae1c" stroke-width="1" stroke-opacity="0.75"/>
<line x1="225.5" y1="564.2" x2="255.1" y2="564.2" stroke="#333" stroke-width="1.1" />
<polyline points="101.6,551.5 101.6,502.5 194.3,502.5 194.3,535.6" fill="none" stroke="#ff2a00" stroke-width="1.3" />
<polyline points="106.3,541.8 106.3,509.4 151.3,509.4 151.3,512.8" fill="none" stroke="#3a5cff" stroke-width="0.9" />
<text x="129" y="509.2" font-size="7" font-weight="bold" text-anchor="middle" fill="#3a5cff" >**</text>
<text x="148.2" y="502.6" font-size="10" font-weight="bold" text-anchor="middle" fill="#000" >*</text>
<polyline points="195.6,534.6 195.6,502.5 244.4,502.5 244.4,526.5" fill="none" stroke="#111" stroke-width="1.1" />
<text x="220.2" y="500" font-size="5.5" font-weight="bold" text-anchor="middle" fill="#000" >NS</text>
</g>
<g id="panelF">
<text x="316.1" y="507" font-size="25" font-weight="bold" text-anchor="start" fill="#000" >F</text>
<ellipse cx="406.9" cy="624.3" rx="41.3" ry="40" fill="#fde4f8"/>
<ellipse cx="485.4" cy="624.1" rx="75.2" ry="70.6" fill="#e5d9ee"/>
<clipPath id="vclip"><ellipse cx="406.9" cy="624.3" rx="41.3" ry="40"/></clipPath>
<ellipse cx="485.4" cy="624.1" rx="75.2" ry="70.6" fill="#e3c1e7" clip-path="url(#vclip)"/>
<text x="485.2" y="544.7" font-size="9.5" font-weight="bold" text-anchor="middle" fill="#000" >FOXJ1 OE vs. EV</text>
<text x="375.2" y="580.2" font-size="9.5" font-weight="bold" text-anchor="middle" fill="#000" >35CR Res vs. Sen</text>
<text x="388.4" y="628.3" font-size="11" font-weight="normal" text-anchor="middle" fill="#000" >562</text>
<text x="427.3" y="628.3" font-size="11" font-weight="normal" text-anchor="middle" fill="#000" >229</text>
<text x="483" y="628.3" font-size="11" font-weight="normal" text-anchor="middle" fill="#000" >3890</text>
</g>
<g id="panelG">
<text x="4.3" y="714.7" font-size="25" font-weight="bold" text-anchor="start" fill="#000" >G</text>
<rect x="327.2" y="751.9" width="256.65" height="7.7" fill="#fff" stroke="#111" stroke-width="1"/>
<text x="321.1" y="758.05" font-size="6.77" font-weight="bold" text-anchor="end" fill="#000" >positive regulation of cilium assembly (GO:0045724)</text>
<rect x="327.2" y="763.72" width="254.82" height="7.7" fill="#fff" stroke="#111" stroke-width="1"/>
<text x="321.1" y="769.87" font-size="6.77" font-weight="bold" text-anchor="end" fill="#000" >Ras protein signal transduction (GO:0007265)</text>
<rect x="327.2" y="775.54" width="190.84" height="7.7" fill="#fff" stroke="#111" stroke-width="1"/>
<text x="321.1" y="781.69" font-size="6.77" font-weight="bold" text-anchor="end" fill="#000" >neurotransmitter receptor transport, endosome to postsynaptic membrane (GO:0098887)</text>
<rect x="327.2" y="787.36" width="146.61" height="7.7" fill="#fff" stroke="#111" stroke-width="1"/>
<text x="321.1" y="793.51" font-size="6.77" font-weight="bold" text-anchor="end" fill="#000" >regulation of monooxygenase activity (GO:0032768)</text>
<rect x="327.2" y="799.18" width="146.61" height="7.7" fill="#fff" stroke="#111" stroke-width="1"/>
<text x="321.1" y="805.33" font-size="6.77" font-weight="bold" text-anchor="end" fill="#000" >negative regulation of protein tyrosine kinase activity (GO:0061099)</text>
<rect x="327.2" y="811" width="138.56" height="7.7" fill="#fff" stroke="#111" stroke-width="1"/>
<text x="321.1" y="817.15" font-size="6.77" font-weight="bold" text-anchor="end" fill="#000" >neurotransmitter receptor transport, endosome to plasma membrane (GO:0099639)</text>
<rect x="327.2" y="822.82" width="94.32" height="7.7" fill="#fff" stroke="#111" stroke-width="1"/>
<text x="321.1" y="828.97" font-size="6.77" font-weight="bold" text-anchor="end" fill="#000" >regulation of chaperone-mediated autophagy (GO:1904714)</text>
<rect x="327.2" y="834.64" width="55.57" height="7.7" fill="#fff" stroke="#111" stroke-width="1"/>
<text x="321.1" y="840.79" font-size="6.77" font-weight="bold" text-anchor="end" fill="#000" >semaphorin-plexin signaling pathway involved in axon guidance (GO:1902287)</text>
<rect x="327.2" y="846.46" width="55.57" height="7.7" fill="#fff" stroke="#111" stroke-width="1"/>
<text x="321.1" y="852.61" font-size="6.77" font-weight="bold" text-anchor="end" fill="#000" >neurotransmitter receptor transport to postsynaptic membrane (GO:0098969)</text>
<rect x="327.2" y="858.28" width="34.73" height="7.7" fill="#fff" stroke="#111" stroke-width="1"/>
<text x="321.1" y="864.43" font-size="6.77" font-weight="bold" text-anchor="end" fill="#000" >negative regulation of cytokine production (GO:0001818)</text>
<line x1="327.2" y1="749.2" x2="327.2" y2="867.6" stroke="#111" stroke-width="1.2" />
<line x1="326.7" y1="867.1" x2="619.6" y2="867.1" stroke="#333" stroke-width="1" />
<text x="327.2" y="880.1" font-size="8" font-weight="bold" text-anchor="middle" fill="#000" >2.2</text>
<text x="363.76" y="880.1" font-size="8" font-weight="bold" text-anchor="middle" fill="#000" >2.3</text>
<text x="400.32" y="880.1" font-size="8" font-weight="bold" text-anchor="middle" fill="#000" >2.4</text>
<text x="436.88" y="880.1" font-size="8" font-weight="bold" text-anchor="middle" fill="#000" >2.5</text>
<text x="473.44" y="880.1" font-size="8" font-weight="bold" text-anchor="middle" fill="#000" >2.6</text>
<text x="510" y="880.1" font-size="8" font-weight="bold" text-anchor="middle" fill="#000" >2.7</text>
<text x="546.56" y="880.1" font-size="8" font-weight="bold" text-anchor="middle" fill="#000" >2.8</text>
<text x="583.12" y="880.1" font-size="8" font-weight="bold" text-anchor="middle" fill="#000" >2.9</text>
<text x="619.68" y="880.1" font-size="8" font-weight="bold" text-anchor="middle" fill="#000" >3</text>
<text x="447.2" y="896.1" font-size="8.5" font-weight="bold" text-anchor="middle">- Log<tspan font-size="3.6" dy="0.6">10</tspan><tspan dy="-0.6"> </tspan><tspan font-style="italic">P</tspan></text>
</g>
</svg>
</body>
</html>
